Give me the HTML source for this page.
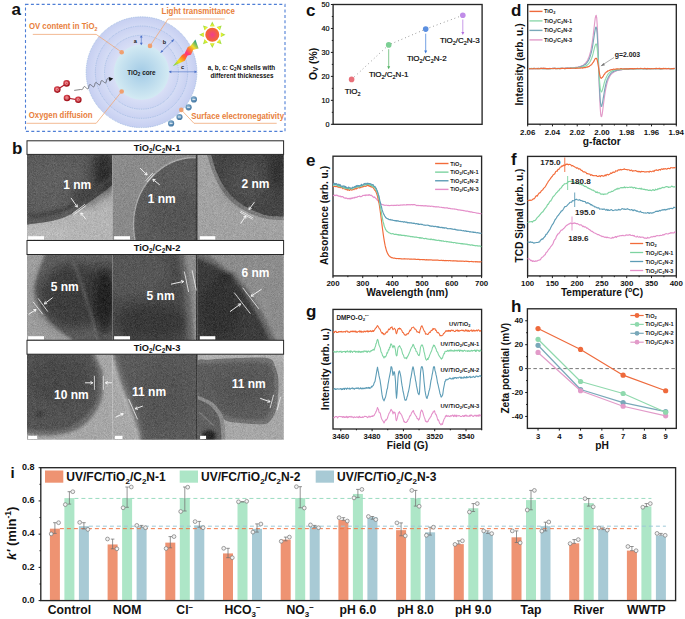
<!DOCTYPE html><html><head><meta charset="utf-8"><style>html,body{margin:0;padding:0;background:#fff;width:685px;height:619px;overflow:hidden}</style></head><body><svg width="685" height="619" viewBox="0 0 685 619" style="display:block;font-family:'Liberation Sans', sans-serif">
<rect width="685" height="619" fill="#fff"/>
<defs>
<radialGradient id="core" cx="50%" cy="50%" r="50%"><stop offset="0" stop-color="#a3cbe6"/><stop offset="1" stop-color="#d3eaf3"/></radialGradient>
<radialGradient id="shell" cx="50%" cy="50%" r="50%"><stop offset="0.49" stop-color="#d9dff6"/><stop offset="0.668" stop-color="#cdd5f3"/><stop offset="0.6681" stop-color="#d6ddf5"/><stop offset="0.834" stop-color="#cad2f2"/><stop offset="0.8341" stop-color="#d3daf5"/><stop offset="1" stop-color="#c6cff1"/></radialGradient>
<radialGradient id="sun" cx="50%" cy="50%" r="50%"><stop offset="0" stop-color="#f03d8f"/><stop offset="1" stop-color="#f46a2a"/></radialGradient>
<linearGradient id="beam" gradientUnits="userSpaceOnUse" x1="173.3" y1="66" x2="197" y2="42"><stop offset="0" stop-color="#60d050"/><stop offset="0.22" stop-color="#f0e020"/><stop offset="0.4" stop-color="#ff7020"/><stop offset="0.55" stop-color="#ff3080"/><stop offset="0.7" stop-color="#ff8030"/><stop offset="0.82" stop-color="#f0e030"/><stop offset="1" stop-color="#20a080"/></linearGradient>
<linearGradient id="ray" x1="0" y1="0" x2="0" y2="1"><stop offset="0" stop-color="#f0f020"/><stop offset="1" stop-color="#70d040"/></linearGradient>
<radialGradient id="ball" cx="40%" cy="35%" r="60%"><stop offset="0" stop-color="#f0606a"/><stop offset="1" stop-color="#a0101a"/></radialGradient>
<radialGradient id="neg" cx="40%" cy="35%" r="60%"><stop offset="0" stop-color="#8ab4d4"/><stop offset="1" stop-color="#4a7ca6"/></radialGradient>
<filter id="b05" x="-50%" y="-50%" width="200%" height="200%"><feGaussianBlur stdDeviation="0.6"/></filter>
<filter id="b1" x="-50%" y="-50%" width="200%" height="200%"><feGaussianBlur stdDeviation="1.5"/></filter>
<filter id="b2" x="-50%" y="-50%" width="200%" height="200%"><feGaussianBlur stdDeviation="3"/></filter>
<filter id="b4" x="-50%" y="-50%" width="200%" height="200%"><feGaussianBlur stdDeviation="6"/></filter>
<filter id="tem" x="0" y="0" width="100%" height="100%" color-interpolation-filters="sRGB"><feTurbulence type="fractalNoise" baseFrequency="1.9" numOctaves="1" seed="4" result="n"/><feColorMatrix in="n" type="matrix" values="1 0 0 0 0  1 0 0 0 0  1 0 0 0 0  0 0 0 0 1" result="g"/><feComposite in="SourceGraphic" in2="g" operator="arithmetic" k1="0" k2="1" k3="0.22" k4="-0.11"/></filter>
<marker id="ah" viewBox="0 0 10 10" refX="9" refY="5" markerWidth="4" markerHeight="4" orient="auto"><path d="M0,0 L10,5 L0,10 z" fill="context-stroke"/></marker>
</defs>
<text x="11.5" y="14.6" font-size="17" font-weight="bold" text-anchor="start" fill="#111" >a</text>
<rect x="25.5" y="4.4" width="259.5" height="127" fill="none" stroke="#4f7fd6" stroke-width="1.1" stroke-dasharray="3 2.4"/>
<circle cx="141.5" cy="72.2" r="55.4" fill="url(#shell)"/>
<circle cx="141.5" cy="72.2" r="55.4" fill="none" stroke="#98b6de" stroke-width="0.75" stroke-dasharray="0.9 0.9"/>
<circle cx="141.5" cy="72.2" r="46.2" fill="none" stroke="#98b6de" stroke-width="0.75" stroke-dasharray="0.9 0.9"/>
<circle cx="141.5" cy="72.2" r="37.0" fill="none" stroke="#98b6de" stroke-width="0.75" stroke-dasharray="0.9 0.9"/>
<circle cx="141.5" cy="72.2" r="27.6" fill="url(#core)"/>
<text x="28.9" y="28.9" font-size="8.8" font-weight="bold" text-anchor="start" fill="#e8803c" textLength="68.6" lengthAdjust="spacingAndGlyphs">OV content in TiO<tspan font-size="6" dy="1.8">2</tspan></text>
<polyline points="32.8,34.4 96.2,34.4 121.7,52.2" fill="none" stroke="#f0a878" stroke-width="0.8" stroke-linejoin="round" />
<text x="161.6" y="14" font-size="8.8" font-weight="bold" text-anchor="start" fill="#e8803c" textLength="73.2" lengthAdjust="spacingAndGlyphs">Light transmittance</text>
<polyline points="224.7,19 168,19 150,45.9" fill="none" stroke="#f0a878" stroke-width="0.8" stroke-linejoin="round" />
<text x="28.8" y="117.6" font-size="8.8" font-weight="bold" text-anchor="start" fill="#e8803c" textLength="63.8" lengthAdjust="spacingAndGlyphs">Oxygen diffusion</text>
<polyline points="26.5,123.3 96.2,123.3 121.7,91.5" fill="none" stroke="#f0a878" stroke-width="0.8" stroke-linejoin="round" />
<text x="191.2" y="118.9" font-size="8.8" font-weight="bold" text-anchor="start" fill="#e8803c" textLength="92.8" lengthAdjust="spacingAndGlyphs">Surface electronegativity</text>
<polyline points="276.7,123.3 194,123.3 181.3,109.9" fill="none" stroke="#f0a878" stroke-width="0.8" stroke-linejoin="round" />
<circle cx="121.7" cy="52.2" r="2.3" fill="#f0a070"/>
<circle cx="150" cy="45.9" r="2.3" fill="#f0a070"/>
<circle cx="121.7" cy="91.5" r="2.3" fill="#f0a070"/>
<circle cx="181.3" cy="109.9" r="2.3" fill="#f0a070"/>
<text x="127.3" y="74.9" font-size="6.4" font-weight="bold" text-anchor="start" fill="#1a1a1a" >TiO<tspan font-size="4.5" dy="1.2">2</tspan><tspan dy="-1.2"> core</tspan></text>
<text x="135.2" y="42.5" font-size="5.6" font-weight="bold" text-anchor="middle" fill="#1a1a1a" >a</text>
<text x="164.4" y="44.4" font-size="5.6" font-weight="bold" text-anchor="middle" fill="#1a1a1a" >b</text>
<text x="182.5" y="69.2" font-size="5.6" font-weight="bold" text-anchor="middle" fill="#1a1a1a" >c</text>
<line x1="141.3" y1="36" x2="141.3" y2="44.2" stroke="#4a70c8" stroke-width="0.6" />
<path d="M139.9,37.6 L141.3,35.2 L142.7,37.6" fill="#4a70c8"/><path d="M139.9,42.8 L141.3,45.2 L142.7,42.8" fill="#4a70c8"/>
<line x1="173.2" y1="40.2" x2="161.3" y2="52" stroke="#4a70c8" stroke-width="0.6" />
<path d="M171.2,40.6 L174.3,39.1 L172.8,42.2 z" fill="#4a70c8"/><path d="M163.3,51.6 L160.2,53.1 L161.7,50.0 z" fill="#4a70c8"/>
<line x1="169.3" y1="71.8" x2="196.5" y2="71.8" stroke="#4a70c8" stroke-width="0.6" />
<path d="M171.3,70.4 L168.9,71.8 L171.3,73.2 z" fill="#4a70c8"/><path d="M194.5,70.4 L196.9,71.8 L194.5,73.2 z" fill="#4a70c8"/>
<text x="241.5" y="70" font-size="6.3" font-weight="bold" text-anchor="middle" fill="#111" >a, b, c: C<tspan font-size="4.5" dy="1.2">2</tspan><tspan dy="-1.2">N shells with</tspan></text>
<text x="242" y="78.2" font-size="6.3" font-weight="bold" text-anchor="middle" fill="#111" >different thicknesses</text>
<path d="M220.9,37.1 L225.5,34.8 L220.9,32.5 z" fill="#a8e040"/>
<path d="M220.9,37.1 L223.2,34.8 L220.9,32.5 z" fill="#e8ee30"/>
<path d="M216.75,42.51 L221.63,44.13 L220.01,39.25 z" fill="#a8e040"/>
<path d="M216.75,42.51 L220.01,42.51 L220.01,39.25 z" fill="#e8ee30"/>
<path d="M210,43.4 L212.3,48 L214.6,43.4 z" fill="#a8e040"/>
<path d="M210,43.4 L212.3,45.7 L214.6,43.4 z" fill="#e8ee30"/>
<path d="M204.59,39.25 L202.97,44.13 L207.85,42.51 z" fill="#a8e040"/>
<path d="M204.59,39.25 L204.59,42.51 L207.85,42.51 z" fill="#e8ee30"/>
<path d="M203.7,32.5 L199.1,34.8 L203.7,37.1 z" fill="#a8e040"/>
<path d="M203.7,32.5 L201.4,34.8 L203.7,37.1 z" fill="#e8ee30"/>
<path d="M207.85,27.09 L202.97,25.47 L204.59,30.35 z" fill="#a8e040"/>
<path d="M207.85,27.09 L204.59,27.09 L204.59,30.35 z" fill="#e8ee30"/>
<path d="M214.6,26.2 L212.3,21.6 L210,26.2 z" fill="#a8e040"/>
<path d="M214.6,26.2 L212.3,23.9 L210,26.2 z" fill="#e8ee30"/>
<path d="M220.01,30.35 L221.63,25.47 L216.75,27.09 z" fill="#a8e040"/>
<path d="M220.01,30.35 L220.01,27.09 L216.75,27.09 z" fill="#e8ee30"/>
<circle cx="212.3" cy="34.8" r="7.0" fill="url(#sun)"/>
<path d="M172.8,66.2 L182.0,55.0 L184.6,53.6 L187.8,47.0 L190.6,45.8 L195.4,39.6 L198.6,48.6 L193.2,49.8 L191.0,54.8 L187.6,55.6 L184.8,60.8 z" fill="url(#beam)"/>
<line x1="57.3" y1="89.6" x2="66.6" y2="83.4" stroke="#b01828" stroke-width="1.2" />
<circle cx="57.3" cy="89.6" r="3.3" fill="url(#ball)"/>
<circle cx="57.3" cy="89.6" r="1.2" fill="none" stroke="#f8d0d0" stroke-width="0.5"/>
<circle cx="66.6" cy="83.4" r="3.3" fill="url(#ball)"/>
<circle cx="66.6" cy="83.4" r="1.2" fill="none" stroke="#f8d0d0" stroke-width="0.5"/>
<line x1="67" y1="98" x2="78.3" y2="99.8" stroke="#b01828" stroke-width="1.2" />
<circle cx="67.0" cy="98.0" r="3.3" fill="url(#ball)"/>
<circle cx="67.0" cy="98.0" r="1.2" fill="none" stroke="#f8d0d0" stroke-width="0.5"/>
<circle cx="78.3" cy="99.8" r="3.3" fill="url(#ball)"/>
<circle cx="78.3" cy="99.8" r="1.2" fill="none" stroke="#f8d0d0" stroke-width="0.5"/>
<polyline points="74.2,90.4 80,89.6 80,89.6 80.2,89.55 80.41,89.52 80.63,89.52 80.85,89.53 81.08,89.55 81.3,89.58 81.53,89.59 81.74,89.59 81.95,89.56 82.15,89.51 82.34,89.41 82.51,89.27 82.67,89.09 82.82,88.87 82.95,88.62 83.08,88.34 83.2,88.04 83.31,87.74 83.43,87.45 83.56,87.18 83.7,86.94 83.86,86.75 84.03,86.62 84.23,86.56 84.45,86.57 84.72,86.7 84.99,86.89 85.29,87.11 85.59,87.37 85.9,87.64 86.21,87.91 86.51,88.17 86.81,88.39 87.08,88.58 87.35,88.71 87.59,88.78 87.81,88.79 88.01,88.72 88.18,88.59 88.33,88.38 88.46,88.12 88.58,87.8 88.67,87.45 88.76,87.06 88.85,86.66 88.94,86.26 89.03,85.87 89.12,85.52 89.24,85.2 89.37,84.94 89.52,84.73 89.69,84.6 89.89,84.53 90.11,84.54 90.35,84.61 90.62,84.74 90.89,84.93 91.19,85.15 91.49,85.41 91.8,85.68 92.11,85.95 92.41,86.21 92.71,86.43 92.98,86.62 93.25,86.75 93.49,86.82 93.71,86.83 93.91,86.76 94.08,86.63 94.23,86.42 94.36,86.16 94.48,85.84 94.57,85.49 94.66,85.1 94.75,84.7 94.84,84.3 94.93,83.91 95.02,83.56 95.14,83.24 95.27,82.98 95.42,82.77 95.59,82.64 95.79,82.57 96.01,82.58 96.25,82.65 96.52,82.78 96.79,82.97 97.09,83.19 97.39,83.45 97.7,83.72 98.01,83.99 98.31,84.25 98.61,84.47 98.88,84.66 99.15,84.79 99.39,84.86 99.61,84.87 99.81,84.8 99.98,84.67 100.13,84.46 100.26,84.2 100.38,83.88 100.47,83.53 100.56,83.14 100.65,82.74 100.74,82.34 100.83,81.95 100.92,81.6 101.04,81.28 101.17,81.02 101.32,80.81 101.49,80.68 101.69,80.61 101.91,80.62 102.15,80.69 102.42,80.82 102.69,81.01 102.99,81.23 103.29,81.49 103.6,81.76 103.91,82.03 104.21,82.29 104.51,82.51 104.78,82.7 105.05,82.83 105.29,82.9 105.51,82.91 105.71,82.84 105.88,82.71 106.03,82.5 106.16,82.24 106.28,81.92 106.37,81.57 106.46,81.18 106.55,80.78 106.64,80.38 106.73,79.99 106.82,79.64 106.94,79.32 107.07,79.06 107.22,78.85 107.39,78.72 107.59,78.65 107.81,78.66 108.05,78.73 108.32,78.86 108.59,79.05 108.89,79.27 109.19,79.53 109.5,79.8" fill="none" stroke="#333" stroke-width="0.6" stroke-linejoin="round" />
<path d="M108.6,77.0 L113.2,78.6 L109.6,81.6 z" fill="#111"/>
<circle cx="193.9" cy="99.4" r="3.1" fill="url(#neg)"/>
<line x1="192.4" y1="99.4" x2="195.4" y2="99.4" stroke="#fff" stroke-width="0.8" />
<circle cx="188.6" cy="107.3" r="3.1" fill="url(#neg)"/>
<line x1="187.1" y1="107.3" x2="190.1" y2="107.3" stroke="#fff" stroke-width="0.8" />
<circle cx="179.5" cy="117.0" r="3.1" fill="url(#neg)"/>
<line x1="178" y1="117" x2="181" y2="117" stroke="#fff" stroke-width="0.8" />
<circle cx="171.1" cy="123.4" r="3.1" fill="url(#neg)"/>
<line x1="169.6" y1="123.4" x2="172.6" y2="123.4" stroke="#fff" stroke-width="0.8" />
<text x="12" y="154.3" font-size="17" font-weight="bold" text-anchor="start" fill="#111" >b</text>
<clipPath id="cl00"><rect x="27" y="154.2" width="85.4" height="86"/></clipPath>
<g clip-path="url(#cl00)"><g filter="url(#tem)">
<rect x="25" y="152.2" width="92" height="92" fill="#b4b4b4"/><path d="M20,226 L20.31,225.93 L20.56,225.86 L20.84,225.77 L21.25,225.67 L21.88,225.53 L22.81,225.35 L24.16,225.11 L26,224.8 L28.51,224.43 L31.68,224.01 L35.31,223.53 L39.23,223.01 L43.24,222.45 L47.16,221.84 L50.81,221.19 L54,220.5 L56.77,219.78 L59.31,219.04 L61.67,218.26 L63.9,217.43 L66.04,216.55 L68.14,215.61 L70.24,214.59 L72.4,213.5 L74.59,212.3 L76.74,211 L78.87,209.61 L80.98,208.17 L83.07,206.69 L85.13,205.21 L87.17,203.73 L89.2,202.3 L91.25,200.86 L93.34,199.37 L95.42,197.86 L97.48,196.36 L99.47,194.89 L101.36,193.49 L103.12,192.18 L104.7,191 L106.09,189.94 L107.31,188.99 L108.4,188.12 L109.38,187.32 L110.3,186.58 L111.19,185.87 L112.07,185.18 L113,184.5 L113.99,183.81 L115.01,183.13 L116.03,182.47 L117.02,181.84 L117.94,181.27 L118.77,180.76 L119.47,180.33 L120,180 L120,140 L20,140 z" fill="#5a5a5a" filter="url(#b05)"/><ellipse cx="55" cy="185" rx="30" ry="26" fill="#5e5e5e" filter="url(#b4)"/><ellipse cx="104" cy="172" rx="11" ry="22" fill="#2c2c2c" filter="url(#b4)"/><ellipse cx="85" cy="195" rx="14" ry="8" fill="#3c3c3c" filter="url(#b4)"/><ellipse cx="40" cy="234" rx="30" ry="5" fill="#bcbcbc" filter="url(#b2)"/><path d="M30,216.5 L31.89,216.21 L34.44,215.85 L37.49,215.42 L40.85,214.94 L44.36,214.4 L47.83,213.8 L51.1,213.17 L54,212.5 L56.58,211.8 L59.03,211.06 L61.38,210.28 L63.65,209.45 L65.86,208.56 L68.04,207.62 L70.21,206.6 L72.4,205.5 L74.59,204.3 L76.74,203 L78.87,201.61 L80.98,200.17 L83.07,198.69 L85.13,197.21 L87.17,195.73 L89.2,194.3 L91.25,192.86 L93.34,191.37 L95.42,189.86 L97.48,188.36 L99.47,186.89 L101.36,185.49 L103.12,184.18 L104.7,183 L106.14,181.91 L107.48,180.89 L108.7,179.93 L109.82,179.04 L110.81,178.25 L111.68,177.56 L112.41,176.97 L113,176.5" fill="none" stroke="#444" stroke-width="4" filter="url(#b1)"/>
</g>
<text x="77.3" y="188.9" font-size="12" font-weight="bold" fill="#fff" text-anchor="middle">1 nm</text><line x1="72.4" y1="213.7" x2="85" y2="204.3" stroke="#f0f0f0" stroke-width="0.8"/><line x1="73.4" y1="215" x2="86" y2="205.6" stroke="#f0f0f0" stroke-width="0.8"/><line x1="71" y1="197.9" x2="77.3" y2="207.1" stroke="#fafafa" stroke-width="0.9"/><polyline points="74.74,205.96 77.3,207.1 77.16,204.3" fill="none" stroke="#fafafa" stroke-width="0.9"/><line x1="85.7" y1="218.9" x2="80.8" y2="213" stroke="#fafafa" stroke-width="0.9"/><polyline points="83.45,213.9 80.8,213 81.2,215.77" fill="none" stroke="#fafafa" stroke-width="0.9"/><rect x="28.1" y="236.2" width="15.9" height="3.3" fill="#fff"/>
</g>
<clipPath id="cl01"><rect x="112.4" y="154.2" width="85.4" height="86"/></clipPath>
<g clip-path="url(#cl01)"><g filter="url(#tem)">
<rect x="110.4" y="152.2" width="92" height="92" fill="#8a8a8a"/><ellipse cx="195" cy="225" rx="61.5" ry="67.5" fill="#5c5c5c" stroke="#a8a8a8" stroke-width="1.3" filter="url(#b05)"/><ellipse cx="175" cy="215" rx="25" ry="25" fill="#545454" filter="url(#b4)"/><rect x="195.8" y="150" width="2.5" height="95" fill="#3a3a3a"/>
</g>
<text x="161.65" y="202.5" font-size="12" font-weight="bold" fill="#fff" text-anchor="middle">1 nm</text><line x1="145.7" y1="180.7" x2="152.8" y2="173" stroke="#f0f0f0" stroke-width="0.8"/><line x1="147" y1="181.9" x2="154.1" y2="174.2" stroke="#f0f0f0" stroke-width="0.8"/><line x1="140.1" y1="168" x2="147.1" y2="175" stroke="#fafafa" stroke-width="0.9"/><polyline points="144.38,174.35 147.1,175 146.45,172.28" fill="none" stroke="#fafafa" stroke-width="0.9"/><line x1="159.8" y1="184.9" x2="152.8" y2="179.3" stroke="#fafafa" stroke-width="0.9"/><polyline points="155.58,179.65 152.8,179.3 153.75,181.93" fill="none" stroke="#fafafa" stroke-width="0.9"/><rect x="114.1" y="236.2" width="15.9" height="3.3" fill="#fff"/>
</g>
<clipPath id="cl02"><rect x="197.8" y="154.2" width="86" height="86"/></clipPath>
<g clip-path="url(#cl02)"><g filter="url(#tem)">
<rect x="195.8" y="152.2" width="92" height="92" fill="#a2a2a2"/><path d="M203,140 L203.27,141.03 L203.61,142.35 L204,143.92 L204.46,145.69 L204.97,147.62 L205.53,149.68 L206.14,151.82 L206.8,154 L207.5,156.3 L208.25,158.79 L209.04,161.42 L209.89,164.14 L210.79,166.91 L211.76,169.67 L212.79,172.38 L213.9,175 L215.08,177.58 L216.34,180.2 L217.67,182.83 L219.06,185.42 L220.51,187.96 L222,190.38 L223.53,192.68 L225.1,194.8 L226.71,196.75 L228.36,198.55 L230.06,200.24 L231.8,201.81 L233.59,203.3 L235.42,204.71 L237.29,206.08 L239.2,207.4 L241.19,208.68 L243.27,209.91 L245.42,211.07 L247.6,212.16 L249.78,213.19 L251.93,214.14 L254.01,215.01 L256,215.8 L257.89,216.5 L259.72,217.11 L261.49,217.63 L263.23,218.09 L264.95,218.48 L266.65,218.82 L268.37,219.13 L270.1,219.4 L271.87,219.62 L273.66,219.78 L275.45,219.87 L277.24,219.92 L279.01,219.95 L280.73,219.96 L282.4,219.97 L284,220 L285.59,220.03 L287.21,220.04 L288.82,220.04 L290.37,220.04 L291.81,220.03 L293.09,220.01 L294.17,220 L295,220 L295,140 z" fill="#7c7c7c" filter="url(#b05)"/><path d="M208.5,140 L208.67,141.04 L208.86,142.36 L209.08,143.94 L209.34,145.72 L209.66,147.66 L210.04,149.71 L210.48,151.84 L211,154 L211.59,156.27 L212.25,158.74 L212.96,161.34 L213.74,164.03 L214.58,166.75 L215.49,169.43 L216.46,172.04 L217.5,174.5 L218.62,176.87 L219.82,179.21 L221.09,181.52 L222.43,183.78 L223.81,185.97 L225.24,188.08 L226.71,190.1 L228.2,192 L229.72,193.79 L231.28,195.47 L232.88,197.07 L234.52,198.58 L236.2,200.01 L237.92,201.39 L239.69,202.71 L241.5,204 L243.38,205.25 L245.36,206.44 L247.39,207.59 L249.46,208.67 L251.53,209.69 L253.58,210.64 L255.58,211.51 L257.5,212.3 L259.28,213 L260.92,213.62 L262.48,214.17 L264.03,214.64 L265.64,215.05 L267.38,215.41 L269.31,215.72 L271.5,216 L274.14,216.22 L277.26,216.36 L280.65,216.44 L284.12,216.48 L287.49,216.49 L290.55,216.49 L293.12,216.48 L295,216.5 L295,140 z" fill="#444" filter="url(#b05)"/><ellipse cx="248" cy="182" rx="22" ry="20" fill="#505050" filter="url(#b4)"/><ellipse cx="278" cy="168" rx="10" ry="22" fill="#333" filter="url(#b4)"/>
</g>
<text x="255.55" y="187.7" font-size="12" font-weight="bold" fill="#fff" text-anchor="middle">2 nm</text><line x1="240.6" y1="210.9" x2="253.2" y2="218" stroke="#f0f0f0" stroke-width="0.8"/><line x1="240" y1="212.2" x2="252.6" y2="219.3" stroke="#f0f0f0" stroke-width="0.8"/><line x1="254.6" y1="201.8" x2="249" y2="209.5" stroke="#fafafa" stroke-width="0.9"/><polyline points="249.22,206.71 249,209.5 251.59,208.43" fill="none" stroke="#fafafa" stroke-width="0.9"/><line x1="240.6" y1="223.6" x2="245.9" y2="215.8" stroke="#fafafa" stroke-width="0.9"/><polyline points="245.77,218.6 245.9,215.8 243.35,216.95" fill="none" stroke="#fafafa" stroke-width="0.9"/><rect x="199.8" y="236.2" width="15.5" height="3.3" fill="#fff"/>
</g>
<clipPath id="cl10"><rect x="27" y="254.3" width="85.4" height="85.7"/></clipPath>
<g clip-path="url(#cl10)"><g filter="url(#tem)">
<rect x="25" y="252.3" width="92" height="92" fill="#9c9c9c"/><path d="M48,245 L47.76,245.56 L47.48,246.17 L47.16,246.88 L46.77,247.74 L46.3,248.83 L45.75,250.2 L45.08,251.9 L44.3,254 L43.28,256.67 L42,259.91 L40.55,263.57 L39.03,267.47 L37.56,271.44 L36.23,275.32 L35.14,278.93 L34.4,282.1 L33.97,284.85 L33.72,287.33 L33.66,289.62 L33.77,291.78 L34.05,293.87 L34.49,295.96 L35.07,298.12 L35.8,300.4 L36.72,302.83 L37.87,305.37 L39.19,307.96 L40.66,310.55 L42.23,313.1 L43.85,315.55 L45.49,317.87 L47.1,320 L48.74,321.95 L50.47,323.76 L52.27,325.46 L54.1,327.06 L55.93,328.56 L57.73,330 L59.46,331.37 L61.1,332.7 L62.67,333.94 L64.2,335.07 L65.7,336.1 L67.15,337.08 L68.55,338.03 L69.9,338.98 L71.18,339.96 L72.4,341 L73.58,342.15 L74.74,343.41 L75.85,344.72 L76.91,346.02 L77.87,347.25 L78.72,348.37 L79.44,349.3 L80,350 L125,350 L125,245 z" fill="#5e5e5e" filter="url(#b1)"/><ellipse cx="75" cy="296" rx="36" ry="33" fill="#3c3c3c" filter="url(#b4)"/><ellipse cx="105" cy="300" rx="10" ry="35" fill="#1e1e1e" filter="url(#b4)"/><path d="M74,262 C84,290 92,315 98,345" fill="none" stroke="#7a7a7a" stroke-width="1.2" filter="url(#b1)"/><path d="M44.3,254 L43.46,256.23 L42.26,259.28 L40.82,262.91 L39.26,266.91 L37.72,271.05 L36.31,275.11 L35.16,278.86 L34.4,282.1 L33.97,284.85 L33.72,287.33 L33.66,289.62 L33.77,291.78 L34.05,293.87 L34.49,295.96 L35.07,298.12 L35.8,300.4 L36.72,302.83 L37.87,305.37 L39.19,307.96 L40.66,310.55 L42.23,313.1 L43.85,315.55 L45.49,317.87 L47.1,320 L48.74,321.95 L50.47,323.76 L52.27,325.46 L54.1,327.06 L55.93,328.56 L57.73,330 L59.46,331.37 L61.1,332.7 L62.72,334 L64.38,335.28 L66.03,336.5 L67.62,337.64 L69.11,338.69 L70.43,339.61 L71.55,340.39 L72.4,341" fill="none" stroke="#b0b0b0" stroke-width="1.0" filter="url(#b1)"/>
</g>
<text x="64.65" y="290.8" font-size="12" font-weight="bold" fill="#fff" text-anchor="middle">5 nm</text><line x1="38" y1="298.3" x2="47.8" y2="311.6" stroke="#f0f0f0" stroke-width="0.8"/><line x1="33" y1="301.8" x2="42.9" y2="314.4" stroke="#f0f0f0" stroke-width="0.8"/><line x1="52.7" y1="297.6" x2="44.3" y2="303.9" stroke="#fafafa" stroke-width="0.9"/><polyline points="45.33,301.3 44.3,303.9 47.09,303.64" fill="none" stroke="#fafafa" stroke-width="0.9"/><line x1="28.5" y1="314.4" x2="36.1" y2="309.5" stroke="#fafafa" stroke-width="0.9"/><polyline points="34.89,312.02 36.1,309.5 33.3,309.56" fill="none" stroke="#fafafa" stroke-width="0.9"/><rect x="28.1" y="336.2" width="15.9" height="3.3" fill="#fff"/>
</g>
<clipPath id="cl11"><rect x="112.4" y="254.3" width="85.4" height="85.7"/></clipPath>
<g clip-path="url(#cl11)"><g filter="url(#tem)">
<rect x="110.4" y="252.3" width="92" height="92" fill="#4a4a4a"/><ellipse cx="132" cy="272" rx="38" ry="26" fill="#565656" filter="url(#b4)"/><ellipse cx="152" cy="322" rx="36" ry="18" fill="#383838" filter="url(#b4)"/><path d="M182,250 L182.04,250.22 L182.06,250.39 L182.1,250.58 L182.14,250.86 L182.22,251.3 L182.33,251.97 L182.48,252.95 L182.7,254.3 L182.99,256.07 L183.35,258.22 L183.76,260.67 L184.21,263.36 L184.67,266.2 L185.14,269.14 L185.58,272.09 L186,275 L186.4,277.95 L186.81,281.06 L187.21,284.28 L187.61,287.54 L188,290.8 L188.36,294 L188.7,297.08 L189,300 L189.26,302.73 L189.5,305.33 L189.71,307.82 L189.89,310.25 L190.06,312.65 L190.22,315.05 L190.36,317.49 L190.5,320 L190.63,322.66 L190.74,325.46 L190.84,328.33 L190.93,331.19 L191,333.96 L191.07,336.57 L191.14,338.94 L191.2,341 L191.26,342.76 L191.31,344.3 L191.35,345.65 L191.39,346.81 L191.43,347.81 L191.46,348.66 L191.48,349.39 L191.5,350 L210,350 L210,250 z" fill="#888" filter="url(#b2)"/><path d="M178.5,250 L178.54,250.22 L178.56,250.39 L178.6,250.58 L178.64,250.86 L178.72,251.3 L178.83,251.97 L178.98,252.95 L179.2,254.3 L179.49,256.07 L179.85,258.22 L180.26,260.67 L180.71,263.36 L181.17,266.2 L181.64,269.14 L182.08,272.09 L182.5,275 L182.9,277.95 L183.31,281.06 L183.71,284.28 L184.11,287.54 L184.5,290.8 L184.86,294 L185.2,297.08 L185.5,300 L185.76,302.73 L186,305.33 L186.21,307.82 L186.39,310.25 L186.56,312.65 L186.72,315.05 L186.86,317.49 L187,320 L187.13,322.66 L187.24,325.46 L187.34,328.33 L187.43,331.19 L187.5,333.96 L187.57,336.57 L187.64,338.94 L187.7,341 L187.76,342.76 L187.81,344.3 L187.85,345.65 L187.89,346.81 L187.93,347.81 L187.96,348.66 L187.98,349.39 L188,350 L210,350 L210,250 z" fill="#686868" filter="url(#b2)"/><path d="M184,250 L184.04,250.22 L184.06,250.39 L184.1,250.58 L184.14,250.86 L184.22,251.3 L184.33,251.97 L184.48,252.95 L184.7,254.3 L184.99,256.07 L185.35,258.22 L185.76,260.67 L186.21,263.36 L186.67,266.2 L187.14,269.14 L187.58,272.09 L188,275 L188.4,277.95 L188.81,281.06 L189.21,284.28 L189.61,287.54 L190,290.8 L190.36,294 L190.7,297.08 L191,300 L191.26,302.73 L191.5,305.33 L191.71,307.82 L191.89,310.25 L192.06,312.65 L192.22,315.05 L192.36,317.49 L192.5,320 L192.63,322.66 L192.74,325.46 L192.84,328.33 L192.93,331.19 L193,333.96 L193.07,336.57 L193.14,338.94 L193.2,341 L193.26,342.76 L193.31,344.3 L193.35,345.65 L193.39,346.81 L193.43,347.81 L193.46,348.66 L193.48,349.39 L193.5,350 L210,350 L210,250 z" fill="#8c8c8c" filter="url(#b1)"/><rect x="196" y="250" width="2.5" height="95" fill="#3a3a3a"/>
</g>
<text x="160.6" y="299.7" font-size="12" font-weight="bold" fill="#fff" text-anchor="middle">5 nm</text><line x1="184.4" y1="271.6" x2="188.6" y2="292" stroke="#f0f0f0" stroke-width="0.8"/><line x1="192.1" y1="270.2" x2="196.3" y2="290.5" stroke="#f0f0f0" stroke-width="0.8"/><line x1="171" y1="284.2" x2="183.7" y2="281.4" stroke="#fafafa" stroke-width="0.9"/><polyline points="181.68,283.34 183.7,281.4 181.05,280.48" fill="none" stroke="#fafafa" stroke-width="0.9"/><rect x="114.1" y="336.2" width="15.9" height="3.3" fill="#fff"/>
</g>
<clipPath id="cl12"><rect x="197.8" y="254.3" width="86" height="85.7"/></clipPath>
<g clip-path="url(#cl12)"><g filter="url(#tem)">
<rect x="195.8" y="252.3" width="92" height="92" fill="#8c8c8c"/><path d="M195,250 L195.79,250.24 L196.79,250.48 L197.96,250.77 L199.31,251.12 L200.8,251.59 L202.42,252.2 L204.16,252.99 L206,254 L207.99,255.23 L210.16,256.66 L212.49,258.27 L214.93,260.02 L217.45,261.89 L220.01,263.86 L222.57,265.91 L225.1,268 L227.65,270.14 L230.29,272.36 L232.98,274.66 L235.68,277.06 L238.37,279.55 L241.01,282.15 L243.56,284.86 L246,287.7 L248.34,290.7 L250.62,293.89 L252.85,297.2 L255.01,300.62 L257.1,304.09 L259.14,307.57 L261.1,311.02 L263,314.4 L264.86,317.85 L266.7,321.47 L268.49,325.16 L270.2,328.81 L271.81,332.32 L273.3,335.59 L274.64,338.52 L275.8,341 L276.77,343.03 L277.55,344.7 L278.19,346.06 L278.7,347.16 L279.11,348.06 L279.45,348.8 L279.73,349.43 L280,350 L190,350 z" fill="#686868" filter="url(#b1)"/><path d="M190,255 L190.51,255.2 L191.1,255.42 L191.8,255.68 L192.62,255.99 L193.6,256.38 L194.77,256.86 L196.16,257.46 L197.8,258.2 L199.75,259.05 L202.02,259.99 L204.54,261.02 L207.23,262.16 L210.03,263.41 L212.85,264.8 L215.63,266.32 L218.3,268 L220.92,269.82 L223.59,271.78 L226.29,273.87 L228.98,276.09 L231.65,278.45 L234.25,280.94 L236.78,283.55 L239.2,286.3 L241.53,289.26 L243.82,292.48 L246.04,295.88 L248.2,299.39 L250.28,302.93 L252.28,306.42 L254.19,309.81 L256,313 L257.72,316.07 L259.37,319.11 L260.93,322.1 L262.41,325.01 L263.79,327.83 L265.07,330.54 L266.24,333.1 L267.3,335.5 L268.24,337.79 L269.05,340.03 L269.75,342.16 L270.36,344.16 L270.87,345.98 L271.31,347.58 L271.68,348.94 L272,350 L190,350 z" fill="#3c3c3c" filter="url(#b1)"/><ellipse cx="220" cy="310" rx="22" ry="30" fill="#333" filter="url(#b4)"/><ellipse cx="225" cy="278" rx="10" ry="4" fill="#2a2a2a" filter="url(#b2)"/>
</g>
<text x="255.55" y="276.8" font-size="12" font-weight="bold" fill="#fff" text-anchor="middle">6 nm</text><line x1="234.2" y1="292.6" x2="250.4" y2="313.7" stroke="#f0f0f0" stroke-width="0.8"/><line x1="242.7" y1="287.7" x2="258.8" y2="308.8" stroke="#f0f0f0" stroke-width="0.8"/><line x1="230" y1="311.6" x2="240.6" y2="303.9" stroke="#fafafa" stroke-width="0.9"/><polyline points="239.53,306.49 240.6,303.9 237.81,304.12" fill="none" stroke="#fafafa" stroke-width="0.9"/><line x1="261.7" y1="289.1" x2="251.1" y2="296.2" stroke="#fafafa" stroke-width="0.9"/><polyline points="252.27,293.66 251.1,296.2 253.9,296.09" fill="none" stroke="#fafafa" stroke-width="0.9"/><rect x="199.8" y="336.2" width="15.5" height="3.3" fill="#fff"/>
</g>
<clipPath id="cl20"><rect x="27" y="354" width="85.4" height="85.8"/></clipPath>
<g clip-path="url(#cl20)"><g filter="url(#tem)">
<rect x="25" y="352" width="92" height="92" fill="#a6a6a6"/><path d="M93,345 L93.11,345.64 L93.22,346.43 L93.35,347.37 L93.51,348.44 L93.73,349.65 L94.02,350.98 L94.41,352.44 L94.9,354 L95.57,355.74 L96.42,357.7 L97.4,359.82 L98.43,362.05 L99.46,364.33 L100.42,366.6 L101.26,368.81 L101.9,370.9 L102.38,372.87 L102.78,374.75 L103.08,376.6 L103.3,378.42 L103.43,380.28 L103.48,382.18 L103.43,384.18 L103.3,386.3 L103.11,388.57 L102.88,390.96 L102.57,393.43 L102.17,395.97 L101.65,398.53 L100.98,401.07 L100.14,403.58 L99.1,406 L97.83,408.42 L96.33,410.91 L94.66,413.4 L92.84,415.86 L90.92,418.22 L88.95,420.45 L86.96,422.5 L85,424.3 L83.06,425.86 L81.09,427.23 L79.09,428.42 L77.04,429.47 L74.93,430.4 L72.77,431.23 L70.52,431.99 L68.2,432.7 L65.77,433.35 L63.23,433.89 L60.6,434.34 L57.92,434.71 L55.2,435 L52.48,435.23 L49.77,435.39 L47.1,435.5 L44.37,435.52 L41.52,435.41 L38.61,435.23 L35.73,434.98 L32.95,434.71 L30.35,434.46 L28.01,434.24 L26,434.1 L24.32,434.02 L22.89,433.98 L21.69,433.96 L20.68,433.96 L19.84,433.97 L19.13,433.99 L18.53,434 L18,434 L18,345 z" fill="#6c6c6c" filter="url(#b1)"/><path d="M90,345 L90.04,345.64 L90.06,346.43 L90.08,347.36 L90.12,348.44 L90.21,349.64 L90.38,350.98 L90.63,352.43 L91,354 L91.54,355.76 L92.27,357.73 L93.1,359.88 L94,362.12 L94.9,364.42 L95.73,366.7 L96.46,368.92 L97,371 L97.4,372.95 L97.72,374.82 L97.96,376.64 L98.12,378.44 L98.21,380.24 L98.22,382.09 L98.15,384 L98,386 L97.8,388.12 L97.56,390.34 L97.26,392.62 L96.88,394.94 L96.38,397.26 L95.75,399.57 L94.96,401.83 L94,404 L92.82,406.15 L91.43,408.33 L89.87,410.5 L88.19,412.62 L86.42,414.67 L84.6,416.61 L82.78,418.4 L81,420 L79.25,421.42 L77.48,422.69 L75.7,423.83 L73.88,424.84 L72.01,425.75 L70.08,426.57 L68.08,427.32 L66,428 L63.83,428.6 L61.58,429.11 L59.26,429.52 L56.88,429.84 L54.45,430.1 L51.98,430.29 L49.5,430.42 L47,430.5 L44.38,430.49 L41.59,430.37 L38.7,430.16 L35.81,429.91 L33.01,429.63 L30.38,429.36 L28.02,429.14 L26,429 L24.32,428.93 L22.9,428.89 L21.7,428.89 L20.69,428.91 L19.84,428.93 L19.13,428.96 L18.53,428.99 L18,429 L18,345 z" fill="#535353" filter="url(#b1)"/><ellipse cx="60" cy="380" rx="32" ry="25" fill="#484848" filter="url(#b4)"/><ellipse cx="40" cy="414" rx="4" ry="3" fill="#3a3a3a" filter="url(#b1)"/>
</g>
<text x="71.45" y="398.7" font-size="12" font-weight="bold" fill="#fff" text-anchor="middle">10 nm</text><line x1="94.4" y1="375.8" x2="94.4" y2="389.8" stroke="#f0f0f0" stroke-width="0.8"/><line x1="103.3" y1="375.8" x2="103.3" y2="389.8" stroke="#f0f0f0" stroke-width="0.8"/><line x1="85" y1="382.8" x2="92.8" y2="382.8" stroke="#fafafa" stroke-width="0.9"/><polyline points="90.41,384.26 92.8,382.8 90.41,381.34" fill="none" stroke="#fafafa" stroke-width="0.9"/><line x1="113" y1="382.8" x2="105.4" y2="382.8" stroke="#fafafa" stroke-width="0.9"/><polyline points="107.79,381.34 105.4,382.8 107.79,384.26" fill="none" stroke="#fafafa" stroke-width="0.9"/><rect x="28.1" y="435.8" width="9.1" height="3.2" fill="#fff"/>
</g>
<clipPath id="cl21"><rect x="112.4" y="354" width="85.4" height="85.8"/></clipPath>
<g clip-path="url(#cl21)"><g filter="url(#tem)">
<rect x="110.4" y="352" width="92" height="92" fill="#a8a8a8"/><path d="M113,345 L113.02,345.7 L113.05,346.63 L113.08,347.74 L113.11,348.97 L113.16,350.27 L113.22,351.58 L113.3,352.84 L113.4,354 L113.5,355 L113.58,355.88 L113.67,356.7 L113.78,357.53 L113.92,358.45 L114.13,359.52 L114.42,360.81 L114.8,362.4 L115.27,364.28 L115.8,366.4 L116.4,368.71 L117.07,371.19 L117.8,373.81 L118.6,376.52 L119.47,379.29 L120.4,382.1 L121.43,384.96 L122.58,387.9 L123.8,390.93 L125.09,394.05 L126.41,397.26 L127.73,400.55 L129.04,403.93 L130.3,407.4 L131.59,411.13 L132.97,415.18 L134.37,419.42 L135.76,423.7 L137.08,427.87 L138.28,431.79 L139.3,435.32 L140.1,438.3 L140.64,440.76 L140.97,442.85 L141.13,444.61 L141.16,446.08 L141.12,447.31 L141.05,448.35 L140.99,449.23 L141,450 L210,450 L210,345 z" fill="#5a5a5a" filter="url(#b1)"/><path d="M113.4,354 L113.48,354.57 L113.55,355.24 L113.64,356.04 L113.75,356.97 L113.91,358.05 L114.12,359.31 L114.41,360.75 L114.8,362.4 L115.27,364.28 L115.8,366.4 L116.4,368.71 L117.07,371.19 L117.8,373.81 L118.6,376.52 L119.47,379.29 L120.4,382.1 L121.43,384.96 L122.58,387.9 L123.8,390.93 L125.09,394.05 L126.41,397.26 L127.73,400.55 L129.04,403.93 L130.3,407.4 L131.6,411.21 L132.99,415.46 L134.41,419.94 L135.82,424.43 L137.15,428.73 L138.34,432.62 L139.34,435.88 L140.1,438.3" fill="none" stroke="#cacaca" stroke-width="2.2" filter="url(#b2)"/><ellipse cx="165" cy="395" rx="25" ry="35" fill="#555" filter="url(#b4)"/><rect x="196" y="350" width="3" height="95" fill="#3a3a3a"/>
</g>
<text x="149.1" y="395.5" font-size="12" font-weight="bold" fill="#fff" text-anchor="middle">11 nm</text><line x1="128.6" y1="399" x2="137.6" y2="419.4" stroke="#f0f0f0" stroke-width="0.8"/><line x1="142.9" y1="406" x2="135.2" y2="408.8" stroke="#fafafa" stroke-width="0.9"/><polyline points="136.94,406.61 135.2,408.8 137.94,409.36" fill="none" stroke="#fafafa" stroke-width="0.9"/><line x1="115.5" y1="417.2" x2="123.2" y2="413.7" stroke="#fafafa" stroke-width="0.9"/><polyline points="121.63,416.02 123.2,413.7 120.42,413.36" fill="none" stroke="#fafafa" stroke-width="0.9"/><rect x="114.8" y="435.8" width="7.7" height="3.2" fill="#fff"/>
</g>
<clipPath id="cl22"><rect x="197.8" y="354" width="86" height="85.8"/></clipPath>
<g clip-path="url(#cl22)"><g filter="url(#tem)">
<rect x="195.8" y="352" width="92" height="92" fill="#a6a6a6"/><rect x="195" y="350" width="95" height="12" fill="#b0b0b0" filter="url(#b2)"/><path d="M196,363 L197.06,362.73 L198.37,362.35 L199.91,361.89 L201.69,361.4 L203.69,360.89 L205.91,360.4 L208.35,359.96 L211,359.6 L213.96,359.3 L217.29,359.03 L220.89,358.79 L224.69,358.58 L228.58,358.39 L232.49,358.23 L236.33,358.1 L240,358 L243.69,357.89 L247.56,357.75 L251.5,357.61 L255.38,357.51 L259.08,357.49 L262.5,357.57 L265.51,357.8 L268,358.2 L269.9,358.75 L271.31,359.42 L272.32,360.2 L273.03,361.11 L273.55,362.13 L273.99,363.29 L274.44,364.58 L275,366 L275.64,367.55 L276.25,369.21 L276.81,371 L277.31,372.92 L277.74,374.98 L278.09,377.19 L278.35,379.56 L278.5,382.1 L278.54,384.96 L278.49,388.19 L278.35,391.66 L278.12,395.24 L277.82,398.8 L277.45,402.2 L277,405.31 L276.5,408 L275.91,410.31 L275.23,412.38 L274.46,414.25 L273.62,415.91 L272.75,417.4 L271.84,418.73 L270.92,419.93 L270,421 L269.17,421.91 L268.43,422.61 L267.73,423.15 L266.97,423.54 L266.09,423.83 L265.02,424.03 L263.68,424.17 L262,424.3 L259.87,424.37 L257.32,424.34 L254.46,424.22 L251.43,424.04 L248.35,423.81 L245.33,423.55 L242.51,423.27 L240,423 L237.8,422.78 L235.78,422.6 L233.9,422.43 L232.12,422.22 L230.39,421.93 L228.67,421.51 L226.92,420.91 L225.1,420.1 L223.21,419.03 L221.31,417.72 L219.4,416.23 L217.49,414.62 L215.59,412.93 L213.7,411.23 L211.84,409.57 L210,408 L208.1,406.64 L206.09,405.49 L204.05,404.42 L202.06,403.31 L200.18,402.03 L198.49,400.47 L197.07,398.5 L196,396 L195.23,392.68 L194.66,388.53 L194.32,383.86 L194.19,378.96 L194.29,374.13 L194.62,369.66 L195.19,365.85 L196,363 L197.06,361.15 L198.37,360.03 L199.91,359.48 L201.69,359.34 L203.69,359.44 L205.91,359.63 L208.35,359.74 L211,359.6 L214.15,359.3 L217.95,359.04 L222.12,358.8 L226.44,358.59 L230.63,358.4 L234.46,358.25 L237.67,358.11 L240,358" fill="#727272" filter="url(#b05)"/><path d="M196,367 L197.06,366.76 L198.37,366.43 L199.91,366.03 L201.69,365.59 L203.69,365.15 L205.91,364.71 L208.35,364.32 L211,364 L213.98,363.73 L217.34,363.47 L220.98,363.24 L224.81,363.03 L228.73,362.85 L232.63,362.7 L236.42,362.58 L240,362.5 L243.53,362.43 L247.18,362.36 L250.85,362.3 L254.44,362.28 L257.85,362.32 L260.98,362.44 L263.73,362.66 L266,363 L267.73,363.43 L268.99,363.93 L269.87,364.5 L270.47,365.16 L270.89,365.92 L271.21,366.81 L271.55,367.83 L272,369 L272.51,370.31 L272.98,371.73 L273.39,373.27 L273.75,374.94 L274.05,376.74 L274.27,378.68 L274.43,380.76 L274.5,383 L274.5,385.53 L274.42,388.4 L274.28,391.49 L274.06,394.69 L273.78,397.86 L273.42,400.88 L273,403.64 L272.5,406 L271.9,408.01 L271.18,409.79 L270.37,411.38 L269.5,412.78 L268.6,414.02 L267.7,415.13 L266.82,416.11 L266,417 L265.32,417.74 L264.79,418.3 L264.33,418.71 L263.84,419 L263.25,419.19 L262.47,419.32 L261.42,419.41 L260,419.5 L258.13,419.56 L255.84,419.54 L253.26,419.47 L250.5,419.34 L247.68,419.18 L244.91,418.97 L242.31,418.74 L240,418.5 L237.96,418.28 L236.08,418.09 L234.31,417.9 L232.62,417.66 L230.99,417.34 L229.36,416.89 L227.71,416.3 L226,415.5 L224.26,414.47 L222.55,413.23 L220.84,411.83 L219.12,410.31 L217.4,408.72 L215.64,407.11 L213.85,405.52 L212,404 L209.99,402.61 L207.77,401.34 L205.44,400.11 L203.12,398.84 L200.92,397.47 L198.92,395.93 L197.25,394.13 L196,392 L195.13,389.35 L194.52,386.15 L194.17,382.61 L194.06,378.94 L194.2,375.33 L194.57,372.01 L195.17,369.16 L196,367 L197.06,365.56 L198.37,364.67 L199.91,364.2 L201.69,364.03 L203.69,364.05 L205.91,364.13 L208.35,364.15 L211,364 L214.15,363.73 L217.95,363.48 L222.12,363.26 L226.44,363.06 L230.63,362.89 L234.46,362.73 L237.67,362.61 L240,362.5" fill="#5c5c5c" filter="url(#b1)"/><ellipse cx="240" cy="388" rx="26" ry="18" fill="#545454" filter="url(#b4)"/><path d="M190,393 L190.5,393.17 L191.12,393.38 L191.85,393.62 L192.69,393.91 L193.63,394.23 L194.66,394.61 L195.79,395.03 L197,395.5 L198.37,396.03 L199.95,396.62 L201.66,397.26 L203.44,397.94 L205.23,398.67 L206.96,399.42 L208.57,400.2 L210,401 L211.25,401.81 L212.4,402.62 L213.45,403.45 L214.44,404.32 L215.37,405.23 L216.26,406.21 L217.13,407.26 L218,408.4 L218.88,409.58 L219.75,410.78 L220.59,412.03 L221.41,413.35 L222.17,414.78 L222.86,416.34 L223.48,418.07 L224,420 L224.42,422.26 L224.74,424.87 L224.98,427.71 L225.16,430.66 L225.28,433.59 L225.37,436.37 L225.44,438.88 L225.5,441 L225.53,442.76 L225.5,444.3 L225.44,445.65 L225.34,446.81 L225.24,447.81 L225.14,448.66 L225.05,449.39 L225,450 L190,450 z" fill="#8c8c8c" filter="url(#b05)"/><path d="M190,397 L190.51,397.13 L191.16,397.29 L191.94,397.47 L192.81,397.69 L193.77,397.94 L194.8,398.24 L195.89,398.59 L197,399 L198.21,399.47 L199.56,399.99 L201.01,400.57 L202.5,401.19 L203.99,401.85 L205.44,402.54 L206.79,403.26 L208,404 L209.08,404.76 L210.08,405.54 L211.01,406.35 L211.88,407.19 L212.7,408.07 L213.48,408.99 L214.25,409.97 L215,411 L215.74,412.04 L216.47,413.05 L217.18,414.09 L217.84,415.19 L218.47,416.39 L219.04,417.73 L219.56,419.25 L220,421 L220.37,423.1 L220.67,425.55 L220.91,428.25 L221.09,431.06 L221.24,433.87 L221.35,436.54 L221.43,438.96 L221.5,441 L221.53,442.71 L221.5,444.23 L221.44,445.58 L221.34,446.75 L221.24,447.77 L221.14,448.64 L221.05,449.38 L221,450 L190,450 z" fill="#606060" filter="url(#b05)"/><ellipse cx="209" cy="436" rx="7" ry="6" fill="#262626" filter="url(#b1)"/><path d="M199,412 L214,426" stroke="#7a7a7a" stroke-width="1.2" filter="url(#b05)"/>
</g>
<text x="248.65" y="388.4" font-size="12" font-weight="bold" fill="#fff" text-anchor="middle">11 nm</text><line x1="273.6" y1="394.8" x2="270.1" y2="408.1" stroke="#f0f0f0" stroke-width="0.8"/><line x1="280.6" y1="396.9" x2="277.1" y2="410.2" stroke="#f0f0f0" stroke-width="0.8"/><line x1="260.2" y1="398.3" x2="270.1" y2="401.8" stroke="#fafafa" stroke-width="0.9"/><polyline points="267.36,402.38 270.1,401.8 268.34,399.62" fill="none" stroke="#fafafa" stroke-width="0.9"/><rect x="200.1" y="435.8" width="6" height="3.2" fill="#fff"/>
</g>
<rect x="27.0" y="140.8" width="256.6" height="13.6" fill="#fff" stroke="#262626" stroke-width="1.0"/>
<text x="157" y="150.7" font-size="9.3" font-weight="bold" text-anchor="middle" fill="#111" >TiO<tspan font-size="6.3" dy="2.2">2</tspan><tspan dy="-2.2">/C</tspan><tspan font-size="6.3" dy="2.2">2</tspan><tspan dy="-2.2">N-1</tspan></text>
<rect x="27.0" y="240.5" width="256.6" height="14" fill="#fff" stroke="#262626" stroke-width="1.0"/>
<text x="157" y="250.8" font-size="9.3" font-weight="bold" text-anchor="middle" fill="#111" >TiO<tspan font-size="6.3" dy="2.2">2</tspan><tspan dy="-2.2">/C</tspan><tspan font-size="6.3" dy="2.2">2</tspan><tspan dy="-2.2">N-2</tspan></text>
<rect x="27.0" y="340.3" width="256.6" height="13.9" fill="#fff" stroke="#262626" stroke-width="1.0"/>
<text x="157" y="350.5" font-size="9.3" font-weight="bold" text-anchor="middle" fill="#111" >TiO<tspan font-size="6.3" dy="2.2">2</tspan><tspan dy="-2.2">/C</tspan><tspan font-size="6.3" dy="2.2">2</tspan><tspan dy="-2.2">N-3</tspan></text>
<text x="306" y="15.6" font-size="17" font-weight="bold" text-anchor="start" fill="#111" >c</text>
<rect x="333.1" y="4.5" width="149" height="119.8" fill="none" stroke="#262626" stroke-width="1.35"/>
<line x1="330.9" y1="124.3" x2="333.1" y2="124.3" stroke="#1a1a1a" stroke-width="1" />
<line x1="330.9" y1="100.34" x2="333.1" y2="100.34" stroke="#1a1a1a" stroke-width="1" />
<line x1="330.9" y1="76.38" x2="333.1" y2="76.38" stroke="#1a1a1a" stroke-width="1" />
<line x1="330.9" y1="52.42" x2="333.1" y2="52.42" stroke="#1a1a1a" stroke-width="1" />
<line x1="330.9" y1="28.46" x2="333.1" y2="28.46" stroke="#1a1a1a" stroke-width="1" />
<line x1="330.9" y1="4.5" x2="333.1" y2="4.5" stroke="#1a1a1a" stroke-width="1" />
<line x1="331.8" y1="112.32" x2="333.1" y2="112.32" stroke="#1a1a1a" stroke-width="1" />
<line x1="331.8" y1="88.36" x2="333.1" y2="88.36" stroke="#1a1a1a" stroke-width="1" />
<line x1="331.8" y1="64.4" x2="333.1" y2="64.4" stroke="#1a1a1a" stroke-width="1" />
<line x1="331.8" y1="40.44" x2="333.1" y2="40.44" stroke="#1a1a1a" stroke-width="1" />
<line x1="331.8" y1="16.48" x2="333.1" y2="16.48" stroke="#1a1a1a" stroke-width="1" />
<text x="329.5" y="126.8" font-size="7.2" font-weight="normal" text-anchor="end" fill="#000" stroke="#000" stroke-width="0.18">0</text>
<text x="329.5" y="102.84" font-size="7.2" font-weight="normal" text-anchor="end" fill="#000" stroke="#000" stroke-width="0.18">10</text>
<text x="329.5" y="78.88" font-size="7.2" font-weight="normal" text-anchor="end" fill="#000" stroke="#000" stroke-width="0.18">20</text>
<text x="329.5" y="54.92" font-size="7.2" font-weight="normal" text-anchor="end" fill="#000" stroke="#000" stroke-width="0.18">30</text>
<text x="329.5" y="30.96" font-size="7.2" font-weight="normal" text-anchor="end" fill="#000" stroke="#000" stroke-width="0.18">40</text>
<text x="329.5" y="7" font-size="7.2" font-weight="normal" text-anchor="end" fill="#000" stroke="#000" stroke-width="0.18">50</text>
<text transform="translate(316.5,63.8) rotate(-90)" font-size="10.4" font-weight="bold" text-anchor="middle" fill="#111">O<tspan font-size="7.5" dy="1.8">V</tspan><tspan dy="-1.8"> (%)</tspan></text>
<polyline points="351.6,79.4 388.7,44.9 425.7,29.1 462.8,15.3" fill="none" stroke="#666" stroke-width="0.8" stroke-linejoin="round" stroke-dasharray="0.8 3"/>
<circle cx="351.6" cy="79.4" r="2.8" fill="#e8707a"/>
<circle cx="388.7" cy="44.9" r="2.8" fill="#7ccf94"/>
<circle cx="425.7" cy="29.1" r="2.8" fill="#5b8fe0"/>
<circle cx="462.8" cy="15.3" r="2.8" fill="#c08ce8"/>
<line x1="388.7" y1="49.2" x2="388.7" y2="66.8" stroke="#4fb060" stroke-width="0.7" />
<path d="M387.2,66.3 L388.7,69.3 L390.2,66.3 z" fill="#4fb060"/>
<line x1="425.7" y1="33.7" x2="425.7" y2="50.9" stroke="#3a78d8" stroke-width="0.7" />
<path d="M424.2,50.4 L425.7,53.4 L427.2,50.4 z" fill="#3a78d8"/>
<line x1="462.8" y1="19.5" x2="462.8" y2="32.5" stroke="#b070e0" stroke-width="0.7" />
<path d="M461.3,32 L462.8,35 L464.3,32 z" fill="#b070e0"/>
<text x="352.7" y="94.2" font-size="8" font-weight="normal" text-anchor="middle" fill="#000" stroke="#000" stroke-width="0.18">TiO<tspan font-size="5.5" dy="1.6">2</tspan></text>
<text x="388.7" y="77.3" font-size="8" font-weight="normal" text-anchor="middle" fill="#000" stroke="#000" stroke-width="0.18">TiO<tspan font-size="5.5" dy="1.6">2</tspan><tspan dy="-1.6">/C</tspan><tspan font-size="5.5" dy="1.6">2</tspan><tspan dy="-1.6">N-1</tspan></text>
<text x="426.8" y="61.4" font-size="8" font-weight="normal" text-anchor="middle" fill="#000" stroke="#000" stroke-width="0.18">TiO<tspan font-size="5.5" dy="1.6">2</tspan><tspan dy="-1.6">/C</tspan><tspan font-size="5.5" dy="1.6">2</tspan><tspan dy="-1.6">N-2</tspan></text>
<text x="459.9" y="43.4" font-size="8" font-weight="normal" text-anchor="middle" fill="#000" stroke="#000" stroke-width="0.18">TiO<tspan font-size="5.5" dy="1.6">2</tspan><tspan dy="-1.6">/C</tspan><tspan font-size="5.5" dy="1.6">2</tspan><tspan dy="-1.6">N-3</tspan></text>
<text x="511" y="15.5" font-size="17" font-weight="bold" text-anchor="start" fill="#111" >d</text>
<rect x="527.7" y="4.6" width="148.6" height="119.6" fill="none" stroke="#262626" stroke-width="1.35"/>
<line x1="527.7" y1="124.2" x2="527.7" y2="126.4" stroke="#1a1a1a" stroke-width="1" />
<line x1="552.47" y1="124.2" x2="552.47" y2="126.4" stroke="#1a1a1a" stroke-width="1" />
<line x1="577.23" y1="124.2" x2="577.23" y2="126.4" stroke="#1a1a1a" stroke-width="1" />
<line x1="602" y1="124.2" x2="602" y2="126.4" stroke="#1a1a1a" stroke-width="1" />
<line x1="626.77" y1="124.2" x2="626.77" y2="126.4" stroke="#1a1a1a" stroke-width="1" />
<line x1="651.53" y1="124.2" x2="651.53" y2="126.4" stroke="#1a1a1a" stroke-width="1" />
<line x1="676.3" y1="124.2" x2="676.3" y2="126.4" stroke="#1a1a1a" stroke-width="1" />
<line x1="540.08" y1="124.2" x2="540.08" y2="125.5" stroke="#1a1a1a" stroke-width="1" />
<line x1="564.85" y1="124.2" x2="564.85" y2="125.5" stroke="#1a1a1a" stroke-width="1" />
<line x1="589.62" y1="124.2" x2="589.62" y2="125.5" stroke="#1a1a1a" stroke-width="1" />
<line x1="614.38" y1="124.2" x2="614.38" y2="125.5" stroke="#1a1a1a" stroke-width="1" />
<line x1="639.15" y1="124.2" x2="639.15" y2="125.5" stroke="#1a1a1a" stroke-width="1" />
<line x1="663.92" y1="124.2" x2="663.92" y2="125.5" stroke="#1a1a1a" stroke-width="1" />
<text x="527.7" y="134.5" font-size="7.9" font-weight="bold" text-anchor="middle" fill="#111" >2.06</text>
<text x="552.47" y="134.5" font-size="7.9" font-weight="bold" text-anchor="middle" fill="#111" >2.04</text>
<text x="577.23" y="134.5" font-size="7.9" font-weight="bold" text-anchor="middle" fill="#111" >2.02</text>
<text x="602" y="134.5" font-size="7.9" font-weight="bold" text-anchor="middle" fill="#111" >2.00</text>
<text x="626.77" y="134.5" font-size="7.9" font-weight="bold" text-anchor="middle" fill="#111" >1.98</text>
<text x="651.53" y="134.5" font-size="7.9" font-weight="bold" text-anchor="middle" fill="#111" >1.96</text>
<text x="676.3" y="134.5" font-size="7.9" font-weight="bold" text-anchor="middle" fill="#111" >1.94</text>
<text x="601.8" y="144.6" font-size="10.2" font-weight="bold" text-anchor="middle" fill="#111" >g-factor</text>
<text transform="translate(523.2,64.5) rotate(-90)" font-size="10.2" font-weight="bold" text-anchor="middle" fill="#111">Intensity (arb. u.)</text>
<polyline points="528.7,68.42 529.7,68.57 530.7,68.48 531.7,68.6 532.7,68.61 533.7,68.33 534.7,68.3 535.7,68.71 536.7,68.41 537.7,68.4 538.7,68.77 539.7,68.51 540.7,68.69 541.7,68.5 542.7,68.58 543.7,68.33 544.7,68.57 545.7,68.68 546.7,68.5 547.7,68.6 548.7,68.56 549.7,68.25 550.7,68.59 551.7,68.49 552.7,68.34 553.7,68.19 554.7,68.6 555.7,68.39 556.7,68.5 557.7,68.56 558.7,68.46 559.7,68.55 560.7,68.26 561.7,68.44 562.7,68.24 563.7,68.46 564.7,68.4 565.7,67.97 566.7,67.95 567.7,67.94 568.7,68.27 569.7,67.94 570.7,67.97 571.7,67.73 572.7,67.75 573.7,67.58 574.7,67.45 575.7,67.43 576.7,67.26 577.7,67.23 578.7,66.89 579.7,66.73 580.2,66.54 580.7,66.43 581.2,66.07 581.7,65.6 582.2,65.71 582.7,65.5 583.2,65.17 583.7,64.67 584.2,64.37 584.7,63.7 585.2,63.54 585.7,62.88 586.2,62.14 586.7,61.34 587.2,60.96 587.7,60.13 588.2,58.66 588.7,57.85 589.2,56.31 589.7,54.62 590.2,52.91 590.7,51.08 591.2,48.75 591.7,45.61 592.2,42.78 592.7,38.98 593.2,35.4 593.7,30.96 594.2,26.79 594.7,22.48 595.2,18.42 595.7,16.06 596.2,15.25 596.7,17.82 597.2,24.84 597.7,35.77 598.2,50.99 598.7,68.55 599.2,84.41 599.7,97.85 600.2,107.91 600.7,114.43 601.2,116.58 601.7,116.48 602.2,114.1 602.7,110.39 603.2,106.49 603.7,102.51 604.2,98.74 604.7,95.18 605.2,91.98 605.7,89.2 606.2,86.9 606.7,84.54 607.2,82.64 607.7,81.17 608.2,79.53 608.7,78.34 609.2,77.62 609.7,76.47 610.2,75.68 610.7,74.71 611.2,74.3 611.7,73.83 612.2,73.07 612.7,72.95 613.2,72.58 613.7,71.96 614.2,71.94 614.7,71.59 615.2,71.46 615.7,71.08 616.2,71.06 616.7,70.9 617.2,70.38 617.7,70.26 618.2,70.44 618.7,70.46 619.7,69.9 620.7,69.82 621.7,69.74 622.7,69.48 623.7,69.4 624.7,69.28 625.7,69.23 626.7,69.27 627.7,69.06 628.7,69.05 629.7,69.2 630.7,68.79 631.7,69.02 632.7,69.07 633.7,68.83 634.7,68.76 635.7,69.03 636.7,68.73 637.7,68.68 638.7,68.79 639.7,68.9 640.7,68.59 641.7,68.69 642.7,68.68 643.7,68.92 644.7,68.71 645.7,68.91 646.7,68.56 647.7,68.64 648.7,68.79 649.7,68.9 650.7,68.68 651.7,68.56 652.7,68.5 653.7,68.7 654.7,68.53 655.7,68.83 656.7,68.84 657.7,68.51 658.7,68.56 659.7,68.82 660.7,68.73 661.7,68.81 662.7,68.58 663.7,68.47 664.7,68.55 665.7,68.79 666.7,68.53 667.7,68.57 668.7,68.6 669.7,68.6 670.7,68.59 671.7,68.85 672.7,68.46 673.7,68.39 674.7,68.85" fill="none" stroke="#e29bc9" stroke-width="1.15" stroke-linejoin="round" />
<polyline points="528.7,68.75 529.7,68.81 530.7,68.53 531.7,68.78 532.7,68.77 533.7,68.42 534.7,68.68 535.7,68.72 536.7,68.63 537.7,68.56 538.7,68.44 539.7,68.46 540.7,68.4 541.7,68.32 542.7,68.57 543.7,68.42 544.7,68.68 545.7,68.29 546.7,68.71 547.7,68.6 548.7,68.71 549.7,68.69 550.7,68.69 551.7,68.52 552.7,68.23 553.7,68.59 554.7,68.29 555.7,68.35 556.7,68.52 557.7,68.44 558.7,68.37 559.7,68.61 560.7,68.43 561.7,68.28 562.7,68.22 563.7,68.5 564.7,68.28 565.7,68.41 566.7,68.16 567.7,68.05 568.7,68.18 569.7,68.27 570.7,67.9 571.7,68.15 572.7,68.14 573.7,68 574.7,67.92 575.7,67.4 576.7,67.59 577.7,67.55 578.7,66.97 579.7,66.86 580.2,66.73 580.7,66.73 581.2,66.52 581.7,66.38 582.2,66.34 582.7,65.75 583.2,65.54 583.7,65.32 584.2,65.03 584.7,64.67 585.2,64.76 585.7,64.28 586.2,63.43 586.7,63.1 587.2,62.4 587.7,61.7 588.2,60.93 588.7,60.16 589.2,59.08 589.7,57.75 590.2,56.27 590.7,54.73 591.2,52.77 591.7,50.85 592.2,48.5 592.7,45.59 593.2,42.38 593.7,39.11 594.2,35.74 594.7,32.45 595.2,29.55 595.7,27.32 596.2,27.16 596.7,29.17 597.2,34.36 597.7,43.08 598.2,54.96 598.7,68.7 599.2,80.98 599.7,91.89 600.2,99.75 600.7,104.46 601.2,106.52 601.7,106.26 602.2,104.1 602.7,101.56 603.2,98.45 603.7,95.52 604.2,92.52 604.7,89.45 605.2,87.21 605.7,84.94 606.2,82.74 606.7,81.15 607.2,79.51 607.7,78.58 608.2,77.4 608.7,76.55 609.2,75.67 609.7,74.88 610.2,74.28 610.7,73.64 611.2,72.92 611.7,72.74 612.2,72.07 612.7,71.8 613.2,71.82 613.7,71.19 614.2,70.98 614.7,70.77 615.2,70.97 615.7,70.45 616.2,70.22 616.7,70.49 617.2,70.01 617.7,70.25 618.2,70.07 618.7,70.05 619.7,69.95 620.7,69.62 621.7,69.61 622.7,69.13 623.7,69.42 624.7,69.21 625.7,69.25 626.7,68.9 627.7,69.17 628.7,69.22 629.7,68.75 630.7,68.85 631.7,68.94 632.7,69.04 633.7,68.73 634.7,68.68 635.7,68.69 636.7,68.86 637.7,68.91 638.7,68.72 639.7,68.69 640.7,68.7 641.7,68.67 642.7,68.69 643.7,68.51 644.7,68.71 645.7,68.94 646.7,68.66 647.7,68.82 648.7,68.52 649.7,68.78 650.7,68.81 651.7,68.76 652.7,68.68 653.7,68.66 654.7,68.74 655.7,68.86 656.7,68.48 657.7,68.45 658.7,68.78 659.7,68.86 660.7,68.66 661.7,68.62 662.7,68.75 663.7,68.48 664.7,68.52 665.7,68.49 666.7,68.68 667.7,68.54 668.7,68.5 669.7,68.73 670.7,68.86 671.7,68.53 672.7,68.73 673.7,68.58 674.7,68.8" fill="none" stroke="#79a8b9" stroke-width="1.15" stroke-linejoin="round" />
<polyline points="528.7,68.62 529.7,68.46 530.7,68.44 531.7,68.34 532.7,68.56 533.7,68.51 534.7,68.41 535.7,68.5 536.7,68.48 537.7,68.7 538.7,68.39 539.7,68.81 540.7,68.55 541.7,68.61 542.7,68.54 543.7,68.72 544.7,68.71 545.7,68.58 546.7,68.54 547.7,68.66 548.7,68.72 549.7,68.49 550.7,68.65 551.7,68.76 552.7,68.51 553.7,68.38 554.7,68.38 555.7,68.62 556.7,68.59 557.7,68.72 558.7,68.66 559.7,68.35 560.7,68.31 561.7,68.34 562.7,68.29 563.7,68.53 564.7,68.6 565.7,68.6 566.7,68.26 567.7,68.54 568.7,68.24 569.7,68.27 570.7,68.39 571.7,68.04 572.7,68 573.7,68.32 574.7,68 575.7,67.96 576.7,68 577.7,67.96 578.7,67.52 579.7,67.55 580.2,67.53 580.7,67.47 581.2,67.24 581.7,67.33 582.2,67.4 582.7,67 583.2,66.94 583.7,66.57 584.2,66.47 584.7,66.48 585.2,65.98 585.7,66.12 586.2,65.85 586.7,65.13 587.2,65.19 587.7,64.49 588.2,64.22 588.7,63.67 589.2,62.81 589.7,62.28 590.2,61.44 590.7,60.55 591.2,59.18 591.7,58.16 592.2,56.81 592.7,55.04 593.2,53.15 593.7,50.96 594.2,49.09 594.7,46.99 595.2,45.4 595.7,44.17 596.2,43.9 596.7,44.96 597.2,48.33 597.7,53.53 598.2,60.33 598.7,68.79 599.2,76.33 599.7,82.69 600.2,88.01 600.7,90.58 601.2,91.85 601.7,91.84 602.2,90.64 602.7,88.94 603.2,87.08 603.7,85.04 604.2,83.1 604.7,81.32 605.2,79.72 605.7,78.68 606.2,77.51 606.7,76.36 607.2,75.55 607.7,74.58 608.2,73.85 608.7,73.32 609.2,73.05 609.7,72.19 610.2,72.03 610.7,71.56 611.2,71.52 611.7,71.05 612.2,70.8 612.7,70.63 613.2,70.52 613.7,70.47 614.2,70.12 614.7,70.23 615.2,69.75 615.7,69.72 616.2,69.54 616.7,69.47 617.2,69.72 617.7,69.63 618.2,69.29 618.7,69.24 619.7,69.25 620.7,69.33 621.7,69.29 622.7,69.2 623.7,69.07 624.7,68.8 625.7,68.89 626.7,68.75 627.7,68.89 628.7,68.88 629.7,68.68 630.7,68.68 631.7,68.93 632.7,68.54 633.7,68.91 634.7,68.94 635.7,68.96 636.7,68.67 637.7,68.74 638.7,68.75 639.7,68.77 640.7,68.93 641.7,68.78 642.7,68.58 643.7,68.86 644.7,68.66 645.7,68.72 646.7,68.78 647.7,68.41 648.7,68.79 649.7,68.73 650.7,68.65 651.7,68.66 652.7,68.62 653.7,68.49 654.7,68.65 655.7,68.41 656.7,68.64 657.7,68.71 658.7,68.6 659.7,68.66 660.7,68.86 661.7,68.82 662.7,68.44 663.7,68.77 664.7,68.69 665.7,68.4 666.7,68.55 667.7,68.49 668.7,68.41 669.7,68.64 670.7,68.83 671.7,68.53 672.7,68.8 673.7,68.71 674.7,68.43" fill="none" stroke="#8fd9ad" stroke-width="1.15" stroke-linejoin="round" />
<polyline points="528.7,68.77 529.7,68.64 530.7,68.8 531.7,68.7 532.7,68.71 533.7,68.51 534.7,68.74 535.7,68.8 536.7,68.77 537.7,68.56 538.7,68.71 539.7,68.58 540.7,68.39 541.7,68.36 542.7,68.37 543.7,68.43 544.7,68.41 545.7,68.58 546.7,68.68 547.7,68.6 548.7,68.54 549.7,68.65 550.7,68.48 551.7,68.55 552.7,68.7 553.7,68.52 554.7,68.41 555.7,68.76 556.7,68.67 557.7,68.49 558.7,68.49 559.7,68.56 560.7,68.59 561.7,68.4 562.7,68.29 563.7,68.39 564.7,68.67 565.7,68.34 566.7,68.49 567.7,68.35 568.7,68.35 569.7,68.32 570.7,68.42 571.7,68.29 572.7,68.2 573.7,68.22 574.7,68.23 575.7,68.36 576.7,68.12 577.7,68.06 578.7,68.23 579.7,68.16 580.2,68.27 580.7,67.91 581.2,68.05 581.7,68.01 582.2,67.78 582.7,68.2 583.2,67.77 583.7,67.64 584.2,67.76 584.7,67.52 585.2,67.66 585.7,67.42 586.2,67.2 586.7,67.03 587.2,67.22 587.7,66.82 588.2,66.89 588.7,66.5 589.2,66.48 589.7,65.86 590.2,65.5 590.7,65.11 591.2,64.93 591.7,64.32 592.2,63.58 592.7,62.78 593.2,62.33 593.7,61.66 594.2,60.62 594.7,59.5 595.2,58.78 595.7,58.31 596.2,58.26 596.7,58.71 597.2,60.01 597.7,62.45 598.2,65.47 598.7,68.45 599.2,71.98 599.7,74.45 600.2,76.63 600.7,77.9 601.2,78.39 601.7,77.86 602.2,77.52 602.7,76.99 603.2,76.37 603.7,75.15 604.2,74.48 604.7,74.06 605.2,73.06 605.7,72.64 606.2,72.12 606.7,71.86 607.2,71.62 607.7,70.92 608.2,70.92 608.7,70.68 609.2,70.52 609.7,70.19 610.2,70.22 610.7,69.8 611.2,69.7 611.7,69.5 612.2,69.68 612.7,69.44 613.2,69.26 613.7,69.15 614.2,69.36 614.7,69.25 615.2,69.26 615.7,69.05 616.2,69.06 616.7,68.86 617.2,69.11 617.7,68.74 618.2,68.93 618.7,69.05 619.7,68.97 620.7,68.65 621.7,68.69 622.7,68.97 623.7,68.84 624.7,68.94 625.7,68.92 626.7,68.7 627.7,68.91 628.7,68.82 629.7,68.61 630.7,68.62 631.7,68.46 632.7,68.62 633.7,68.89 634.7,68.46 635.7,68.69 636.7,68.46 637.7,68.44 638.7,68.72 639.7,68.51 640.7,68.41 641.7,68.46 642.7,68.71 643.7,68.67 644.7,68.38 645.7,68.49 646.7,68.86 647.7,68.48 648.7,68.65 649.7,68.58 650.7,68.76 651.7,68.67 652.7,68.76 653.7,68.63 654.7,68.46 655.7,68.45 656.7,68.4 657.7,68.78 658.7,68.42 659.7,68.37 660.7,68.85 661.7,68.46 662.7,68.81 663.7,68.4 664.7,68.59 665.7,68.47 666.7,68.77 667.7,68.67 668.7,68.68 669.7,68.74 670.7,68.79 671.7,68.53 672.7,68.66 673.7,68.58 674.7,68.41" fill="none" stroke="#ee6a3c" stroke-width="1.15" stroke-linejoin="round" />
<line x1="529.4" y1="11.4" x2="542.5" y2="11.4" stroke="#ee6a3c" stroke-width="1.4" />
<text x="543.9" y="13.4" font-size="5.6" font-weight="bold" text-anchor="start" fill="#222" >TiO<tspan font-size="4" dy="1">2</tspan></text>
<line x1="529.4" y1="20.9" x2="542.5" y2="20.9" stroke="#8fd9ad" stroke-width="1.4" />
<text x="543.9" y="22.9" font-size="5.6" font-weight="bold" text-anchor="start" fill="#222" >TiO<tspan font-size="4" dy="1">2</tspan><tspan dy="-1">/C</tspan><tspan font-size="4" dy="1">2</tspan><tspan dy="-1">N-1</tspan></text>
<line x1="529.4" y1="30.4" x2="542.5" y2="30.4" stroke="#79a8b9" stroke-width="1.4" />
<text x="543.9" y="32.4" font-size="5.6" font-weight="bold" text-anchor="start" fill="#222" >TiO<tspan font-size="4" dy="1">2</tspan><tspan dy="-1">/C</tspan><tspan font-size="4" dy="1">2</tspan><tspan dy="-1">N-2</tspan></text>
<line x1="529.4" y1="39.9" x2="542.5" y2="39.9" stroke="#e29bc9" stroke-width="1.4" />
<text x="543.9" y="41.9" font-size="5.6" font-weight="bold" text-anchor="start" fill="#222" >TiO<tspan font-size="4" dy="1">2</tspan><tspan dy="-1">/C</tspan><tspan font-size="4" dy="1">2</tspan><tspan dy="-1">N-3</tspan></text>
<text x="614.7" y="56.9" font-size="6.9" font-weight="bold" text-anchor="start" fill="#222" >g=2.003</text>
<line x1="614" y1="57.5" x2="601.5" y2="65.5" stroke="#777" stroke-width="0.6" />
<path d="M603.6,62.9 L600.6,66.2 L605,65.2 z" fill="#777"/>
<text x="306" y="166" font-size="17" font-weight="bold" text-anchor="start" fill="#111" >e</text>
<rect x="333" y="156.2" width="148.6" height="119.7" fill="none" stroke="#262626" stroke-width="1.35"/>
<line x1="333" y1="275.9" x2="333" y2="278.1" stroke="#1a1a1a" stroke-width="1" />
<line x1="362.72" y1="275.9" x2="362.72" y2="278.1" stroke="#1a1a1a" stroke-width="1" />
<line x1="392.44" y1="275.9" x2="392.44" y2="278.1" stroke="#1a1a1a" stroke-width="1" />
<line x1="422.16" y1="275.9" x2="422.16" y2="278.1" stroke="#1a1a1a" stroke-width="1" />
<line x1="451.88" y1="275.9" x2="451.88" y2="278.1" stroke="#1a1a1a" stroke-width="1" />
<line x1="481.6" y1="275.9" x2="481.6" y2="278.1" stroke="#1a1a1a" stroke-width="1" />
<line x1="347.86" y1="275.9" x2="347.86" y2="277.2" stroke="#1a1a1a" stroke-width="1" />
<line x1="377.58" y1="275.9" x2="377.58" y2="277.2" stroke="#1a1a1a" stroke-width="1" />
<line x1="407.3" y1="275.9" x2="407.3" y2="277.2" stroke="#1a1a1a" stroke-width="1" />
<line x1="437.02" y1="275.9" x2="437.02" y2="277.2" stroke="#1a1a1a" stroke-width="1" />
<line x1="466.74" y1="275.9" x2="466.74" y2="277.2" stroke="#1a1a1a" stroke-width="1" />
<text x="333" y="285.8" font-size="7.9" font-weight="bold" text-anchor="middle" fill="#111" >200</text>
<text x="362.72" y="285.8" font-size="7.9" font-weight="bold" text-anchor="middle" fill="#111" >300</text>
<text x="392.44" y="285.8" font-size="7.9" font-weight="bold" text-anchor="middle" fill="#111" >400</text>
<text x="422.16" y="285.8" font-size="7.9" font-weight="bold" text-anchor="middle" fill="#111" >500</text>
<text x="451.88" y="285.8" font-size="7.9" font-weight="bold" text-anchor="middle" fill="#111" >600</text>
<text x="481.6" y="285.8" font-size="7.9" font-weight="bold" text-anchor="middle" fill="#111" >700</text>
<text x="407.2" y="295.8" font-size="10.2" font-weight="bold" text-anchor="middle" fill="#111" >Wavelength (nm)</text>
<text transform="translate(328,215.5) rotate(-90)" font-size="10.2" font-weight="bold" text-anchor="middle" fill="#111">Absorbance (arb. u.)</text>
<polyline points="333,195.72 333.45,195.44 333.89,195.64 334.34,195.03 334.78,195.37 335.23,195.32 335.67,195.62 336.12,195.02 336.57,195.35 337.01,195.57 337.46,195.24 337.9,195.82 338.35,196.11 338.8,195.9 339.24,196.24 339.69,196.32 340.13,196.05 340.58,196.31 341.02,197.08 341.47,196.55 341.92,196.77 342.36,196.55 342.81,196.82 343.25,196.89 343.7,197.78 344.14,197.7 344.59,197.97 345.04,198.2 345.48,197.94 345.93,198.37 346.37,198.07 346.82,198.04 347.27,198.65 347.71,198.68 348.16,198.78 348.6,198.36 349.05,198.68 349.49,198.32 349.94,198.91 350.39,198.82 350.83,198.16 351.28,198.75 351.72,197.94 352.17,197.79 352.62,198.33 353.06,197.81 353.51,197.94 353.95,197.96 354.4,197.25 354.84,197.85 355.29,197.27 355.74,197.31 356.18,197.12 356.63,197.4 357.07,197.3 357.52,196.74 357.96,196.45 358.41,196.54 358.86,196.55 359.3,196.12 359.75,196.1 360.19,196.6 360.64,196.44 361.09,196.61 361.53,196.51 361.98,196.31 362.42,195.7 362.87,195.38 363.31,195.43 363.76,195.48 364.21,195.44 364.65,195.37 365.1,195.1 365.54,195.52 365.99,194.88 366.44,195.01 366.88,195.4 367.33,195.3 367.77,194.79 368.22,194.75 368.66,195.35 369.11,194.6 369.56,194.8 370,195.3 370.45,195.42 370.89,195.19 371.34,195.23 371.78,195.56 372.23,196.33 372.68,196.25 373.12,197.01 373.57,197.09 374.01,197.59 374.46,196.98 374.91,197.49 375.35,197.72 375.8,198.56 376.24,198.93 376.69,199.12 377.13,200.11 377.58,200.17 378.03,200.9 378.47,201.33 378.92,202.37 379.36,202.43 379.81,202.69 380.25,202.85 380.7,203.62 381.15,204 381.59,204.27 382.04,204.59 382.48,204.73 382.93,204.67 383.38,204.75 383.82,205.11 384.27,205.21 384.71,205.17 385.16,205.36 385.6,205.3 386.05,205.23 386.5,205.21 386.94,205.18 387.39,205.45 387.83,205.56 388.28,205.58 388.73,205.41 389.17,205.49 389.62,205.6 390.06,205.56 390.51,205.47 390.95,205.39 391.4,205.43 391.85,205.29 392.29,205.28 392.74,205.48 393.18,205.59 393.63,205.4 394.07,205.33 394.52,205.3 394.97,205.33 395.41,205.45 395.86,205.3 396.3,205.48 396.75,205.14 397.2,205.19 397.64,205.25 398.09,205.18 398.53,205.34 398.98,205.31 399.42,205.32 399.87,205.17 400.32,204.92 400.76,205.11 401.21,205.07 401.65,205.02 402.1,204.91 402.54,205.06 402.99,205.11 403.44,204.77 403.88,204.97 404.33,204.83 404.77,204.86 405.22,204.99 405.67,205 406.11,204.85 406.56,204.65 407,204.93 407.45,204.62 407.89,204.68 408.34,204.85 408.79,204.64 409.23,204.61 409.68,204.88 410.12,204.88 410.57,204.63 411.01,204.66 411.46,204.62 411.91,204.57 412.35,204.62 412.8,204.93 413.24,204.58 413.69,204.66 414.14,204.66 414.58,204.63 415.03,204.83 415.47,204.94 415.92,205 416.36,205.55 416.81,205.63 417.26,205.31 417.7,205.43 418.15,205.71 418.59,205.37 419.04,205.46 419.49,205.56 419.93,205.49 420.38,205.62 420.82,205.44 421.27,205.54 421.71,205.84 422.16,205.54 422.61,205.87 423.05,205.6 423.5,205.95 423.94,205.85 424.39,205.86 424.83,205.69 425.28,205.68 425.73,205.99 426.17,205.79 426.62,205.82 427.06,206.11 427.51,206.16 427.96,205.86 428.4,206.26 428.85,206.13 429.29,206.1 429.74,206.03 430.18,206.18 430.63,206.45 431.08,206.21 431.52,206.19 431.97,206.23 432.41,206.26 432.86,206.39 433.31,206.66 433.75,206.37 434.2,206.45 434.64,206.8 435.09,206.86 435.53,206.9 435.98,206.65 436.43,206.74 436.87,207.03 437.32,206.89 437.76,207.02 438.21,206.91 438.65,206.84 439.1,207.02 439.55,207.23 439.99,207.3 440.44,207.26 440.88,207.27 441.33,207.35 441.78,207.37 442.22,207.46 442.67,207.63 443.11,207.43 443.56,207.64 444,207.84 444.45,207.86 444.9,207.65 445.34,208.02 445.79,208.02 446.23,207.81 446.68,207.91 447.12,207.94 447.57,207.94 448.02,208.37 448.46,208.21 448.91,208.45 449.35,208.21 449.8,208.23 450.25,208.64 450.69,208.67 451.14,208.81 451.58,208.75 452.03,208.75 452.47,208.92 452.92,208.71 453.37,208.96 453.81,208.98 454.26,208.93 454.7,209.18 455.15,209.14 455.6,209.28 456.04,209.29 456.49,209.34 456.93,209.43 457.38,209.59 457.82,209.82 458.27,209.87 458.72,209.91 459.16,209.97 459.61,209.83 460.05,210.17 460.5,209.96 460.94,209.98 461.39,210.2 461.84,210.37 462.28,210.29 462.73,210.49 463.17,210.42 463.62,210.77 464.07,210.64 464.51,210.73 464.96,210.82 465.4,211.04 465.85,211.16 466.29,211.06 466.74,211.1 467.19,211.25 467.63,211.11 468.08,211.34 468.52,211.59 468.97,211.64 469.41,211.43 469.86,211.83 470.31,211.73 470.75,212.05 471.2,211.89 471.64,211.91 472.09,212.13 472.54,212.35 472.98,212.25 473.43,212.51 473.87,212.54 474.32,212.48 474.76,212.54 475.21,212.71 475.66,212.76 476.1,212.83 476.55,213.03 476.99,213.21 477.44,213.18 477.88,213.1 478.33,213.22 478.78,213.37 479.22,213.56 479.67,213.46 480.11,213.53 480.56,213.71 481.01,213.79 481.45,213.78" fill="none" stroke="#e48fc9" stroke-width="1.15" stroke-linejoin="round" />
<polyline points="333,186.24 333.45,186.58 333.89,186.17 334.34,186.36 334.78,186.46 335.23,186.5 335.67,186.62 336.12,186.22 336.57,186.54 337.01,186.07 337.46,186.94 337.9,186.56 338.35,186.79 338.8,187.34 339.24,186.88 339.69,186.93 340.13,187.72 340.58,187.65 341.02,187.29 341.47,187.4 341.92,187.88 342.36,187.69 342.81,188.68 343.25,188.19 343.7,188.44 344.14,188.71 344.59,188.98 345.04,189.05 345.48,189.39 345.93,189.55 346.37,189.45 346.82,189.23 347.27,190.21 347.71,190.01 348.16,189.47 348.6,189.89 349.05,190.23 349.49,190.49 349.94,189.56 350.39,189.48 350.83,189.91 351.28,189.8 351.72,190.19 352.17,190.04 352.62,189.44 353.06,189.42 353.51,189.46 353.95,189.63 354.4,188.82 354.84,188.87 355.29,188.43 355.74,188.84 356.18,188.09 356.63,188.86 357.07,188.32 357.52,188.24 357.96,187.62 358.41,187.64 358.86,187.75 359.3,188.01 359.75,187.57 360.19,187.19 360.64,187.76 361.09,187.31 361.53,187.05 361.98,186.59 362.42,186.56 362.87,187.03 363.31,186.13 363.76,186.41 364.21,186.37 364.65,186 365.1,186.3 365.54,186.35 365.99,186.22 366.44,186.04 366.88,185.47 367.33,185.3 367.77,185.68 368.22,185.58 368.66,185.52 369.11,186.27 369.56,185.72 370,186.46 370.45,186.73 370.89,186.11 371.34,187.12 371.78,186.86 372.23,186.96 372.68,187.27 373.12,187.49 373.57,188.38 374.01,188.76 374.46,189.78 374.91,190.41 375.35,190.38 375.8,191.59 376.24,192.59 376.69,193.55 377.13,194.98 377.58,196.56 378.03,198.78 378.47,200.48 378.92,202.56 379.36,205.24 379.81,208.29 380.25,211.48 380.7,214.57 381.15,218.17 381.59,221.48 382.04,225.19 382.48,228.65 382.93,231.85 383.38,235.28 383.82,238.12 384.27,240.92 384.71,243.42 385.16,245.64 385.6,247.51 386.05,249.05 386.5,250.8 386.94,252.08 387.39,253 387.83,253.94 388.28,254.57 388.73,255.46 389.17,255.91 389.62,256.17 390.06,256.78 390.51,257.16 390.95,257.16 391.4,257.64 391.85,257.62 392.29,257.65 392.74,257.99 393.18,257.95 393.63,258.2 394.07,258.22 394.52,258.1 394.97,258.33 395.41,258.51 395.86,258.4 396.3,258.47 396.75,258.63 397.2,258.5 397.64,258.55 398.09,258.61 398.53,258.74 398.98,258.51 399.42,258.49 399.87,258.78 400.32,258.72 400.76,258.64 401.21,258.9 401.65,258.92 402.1,258.8 402.54,259 402.99,258.96 403.44,258.94 403.88,258.78 404.33,258.68 404.77,258.97 405.22,259.01 405.67,258.87 406.11,258.94 406.56,259 407,258.89 407.45,259.08 407.89,259.05 408.34,259 408.79,258.9 409.23,259.1 409.68,259.02 410.12,259.2 410.57,259 411.01,259.11 411.46,259.05 411.91,259.15 412.35,259.23 412.8,259.06 413.24,259.06 413.69,259.25 414.14,259.16 414.58,259.3 415.03,259.18 415.47,259.17 415.92,259.36 416.36,259.54 416.81,259.53 417.26,259.41 417.7,259.38 418.15,259.26 418.59,259.37 419.04,259.4 419.49,259.67 419.93,259.36 420.38,259.71 420.82,259.54 421.27,259.54 421.71,259.49 422.16,259.79 422.61,259.49 423.05,259.66 423.5,259.66 423.94,259.55 424.39,259.58 424.83,259.9 425.28,259.84 425.73,259.84 426.17,259.92 426.62,259.62 427.06,259.88 427.51,259.92 427.96,259.72 428.4,259.83 428.85,260.06 429.29,259.82 429.74,260.01 430.18,259.79 430.63,260.01 431.08,259.87 431.52,259.98 431.97,259.94 432.41,260.16 432.86,260.13 433.31,260.05 433.75,260.14 434.2,260.06 434.64,260.23 435.09,260.02 435.53,260.16 435.98,260.19 436.43,260.13 436.87,260.01 437.32,260.08 437.76,260.29 438.21,260.13 438.65,260.37 439.1,260.29 439.55,260.48 439.99,260.46 440.44,260.43 440.88,260.31 441.33,260.19 441.78,260.41 442.22,260.51 442.67,260.6 443.11,260.33 443.56,260.33 444,260.67 444.45,260.6 444.9,260.51 445.34,260.63 445.79,260.41 446.23,260.59 446.68,260.66 447.12,260.65 447.57,260.49 448.02,260.5 448.46,260.71 448.91,260.83 449.35,260.55 449.8,260.52 450.25,260.57 450.69,260.87 451.14,260.73 451.58,260.77 452.03,261 452.47,260.87 452.92,260.75 453.37,260.94 453.81,260.68 454.26,260.81 454.7,260.99 455.15,260.8 455.6,260.76 456.04,260.98 456.49,260.92 456.93,261.19 457.38,260.86 457.82,261.16 458.27,261.01 458.72,261.2 459.16,261.07 459.61,261.18 460.05,261.06 460.5,261.04 460.94,261.15 461.39,261.3 461.84,261.14 462.28,261.11 462.73,261.2 463.17,261.09 463.62,261.2 464.07,261.32 464.51,261.33 464.96,261.37 465.4,261.26 465.85,261.17 466.29,261.19 466.74,261.34 467.19,261.3 467.63,261.46 468.08,261.36 468.52,261.58 468.97,261.53 469.41,261.57 469.86,261.62 470.31,261.55 470.75,261.53 471.2,261.5 471.64,261.42 472.09,261.73 472.54,261.63 472.98,261.49 473.43,261.84 473.87,261.72 474.32,261.76 474.76,261.7 475.21,261.59 475.66,261.96 476.1,261.65 476.55,261.74 476.99,262.01 477.44,261.68 477.88,261.85 478.33,261.86 478.78,261.79 479.22,262.07 479.67,261.89 480.11,261.74 480.56,261.95 481.01,261.78 481.45,262.08" fill="none" stroke="#f26b3a" stroke-width="1.15" stroke-linejoin="round" />
<polyline points="333,185.55 333.45,185.57 333.89,184.26 334.34,185.19 334.78,184.64 335.23,184.92 335.67,184.71 336.12,184.78 336.57,184.61 337.01,185.44 337.46,184.74 337.9,186.18 338.35,184.93 338.8,186.45 339.24,185.43 339.69,185.42 340.13,186.56 340.58,186.4 341.02,186.91 341.47,186.68 341.92,187.02 342.36,186.36 342.81,187.41 343.25,187.32 343.7,188.16 344.14,186.88 344.59,187.12 345.04,188.18 345.48,188.7 345.93,188.08 346.37,188.63 346.82,188.52 347.27,188.37 347.71,188.57 348.16,188.84 348.6,188.04 349.05,188.49 349.49,189.15 349.94,188.43 350.39,188.73 350.83,188.37 351.28,188.46 351.72,188.83 352.17,188.88 352.62,189.1 353.06,188.26 353.51,187.73 353.95,187.8 354.4,187.25 354.84,187.39 355.29,187.77 355.74,187.67 356.18,186.97 356.63,186.75 357.07,186.49 357.52,186.48 357.96,186.83 358.41,186.34 358.86,187.15 359.3,186.55 359.75,186.09 360.19,186.1 360.64,185.38 361.09,186.29 361.53,186.19 361.98,185.48 362.42,185.89 362.87,185.08 363.31,184.87 363.76,184.75 364.21,184.58 364.65,185.08 365.1,185.02 365.54,185.05 365.99,184.03 366.44,184.96 366.88,184.47 367.33,184.29 367.77,184.47 368.22,184.37 368.66,184.05 369.11,184.4 369.56,184.85 370,185.06 370.45,185.48 370.89,184.55 371.34,185.76 371.78,185.82 372.23,185.91 372.68,186.56 373.12,185.58 373.57,186.86 374.01,187.42 374.46,186.68 374.91,187.89 375.35,189 375.8,188.71 376.24,190.36 376.69,191.4 377.13,191.83 377.58,192.73 378.03,194.38 378.47,197.07 378.92,198.46 379.36,200.52 379.81,203.12 380.25,206.41 380.7,208.28 381.15,210.82 381.59,214.02 382.04,216.18 382.48,218.6 382.93,221.13 383.38,222.66 383.82,224.27 384.27,226.25 384.71,227.14 385.16,228.21 385.6,229.56 386.05,229.9 386.5,230.94 386.94,231.13 387.39,231.55 387.83,231.87 388.28,232.38 388.73,232.65 389.17,232.77 389.62,233.03 390.06,233.07 390.51,233.53 390.95,233.72 391.4,233.72 391.85,233.87 392.29,233.51 392.74,233.71 393.18,233.77 393.63,233.82 394.07,234.38 394.52,234.42 394.97,234.49 395.41,234.35 395.86,234.15 396.3,234.4 396.75,234.25 397.2,234.82 397.64,234.5 398.09,234.58 398.53,235.04 398.98,234.66 399.42,235.16 399.87,234.85 400.32,235.13 400.76,234.86 401.21,235.39 401.65,235.16 402.1,235.19 402.54,235.44 402.99,235.46 403.44,235.32 403.88,235.31 404.33,235.64 404.77,235.37 405.22,235.95 405.67,235.69 406.11,235.65 406.56,235.81 407,235.74 407.45,235.93 407.89,236.13 408.34,236.11 408.79,236.13 409.23,236.16 409.68,236.34 410.12,236.58 410.57,236.44 411.01,236.7 411.46,236.59 411.91,236.44 412.35,236.53 412.8,237 413.24,236.84 413.69,236.85 414.14,236.99 414.58,237.25 415.03,237.03 415.47,237.09 415.92,237.15 416.36,237 416.81,237.38 417.26,237.41 417.7,237.48 418.15,237.52 418.59,237.59 419.04,237.8 419.49,237.55 419.93,238.09 420.38,237.63 420.82,238.14 421.27,237.79 421.71,238.23 422.16,237.97 422.61,237.92 423.05,238.26 423.5,238.51 423.94,238.57 424.39,238.65 424.83,238.78 425.28,238.29 425.73,238.54 426.17,238.44 426.62,238.9 427.06,238.78 427.51,239.01 427.96,239.11 428.4,239.29 428.85,239.16 429.29,239.34 429.74,239.21 430.18,238.99 430.63,239.54 431.08,239.13 431.52,239.19 431.97,239.69 432.41,239.43 432.86,239.72 433.31,239.4 433.75,239.57 434.2,239.94 434.64,239.6 435.09,239.94 435.53,240.26 435.98,239.89 436.43,240.25 436.87,240.34 437.32,240.32 437.76,240.47 438.21,240.5 438.65,240.15 439.1,240.32 439.55,240.59 439.99,240.91 440.44,240.52 440.88,240.81 441.33,240.59 441.78,241.09 442.22,240.91 442.67,241.02 443.11,241.17 443.56,240.91 444,241.33 444.45,241.44 444.9,241.54 445.34,241.25 445.79,241.29 446.23,241.31 446.68,241.81 447.12,241.6 447.57,241.63 448.02,241.77 448.46,241.94 448.91,241.78 449.35,241.85 449.8,242.17 450.25,242.24 450.69,242.02 451.14,241.95 451.58,242.52 452.03,242.47 452.47,242.45 452.92,242.4 453.37,242.79 453.81,242.54 454.26,242.47 454.7,242.47 455.15,242.68 455.6,242.89 456.04,242.81 456.49,243.22 456.93,243.11 457.38,243.06 457.82,243.24 458.27,243.27 458.72,243.34 459.16,243.33 459.61,243.41 460.05,243.45 460.5,243.72 460.94,243.4 461.39,243.82 461.84,243.59 462.28,243.98 462.73,243.58 463.17,243.89 463.62,243.93 464.07,244.15 464.51,243.91 464.96,244.01 465.4,243.99 465.85,244.31 466.29,244.39 466.74,244.1 467.19,244.27 467.63,244.35 468.08,244.87 468.52,244.63 468.97,244.76 469.41,244.65 469.86,244.94 470.31,245.09 470.75,245.07 471.2,244.73 471.64,245.06 472.09,245.15 472.54,244.95 472.98,245.46 473.43,245.24 473.87,245.29 474.32,245.55 474.76,245.59 475.21,245.6 475.66,245.88 476.1,245.74 476.55,245.69 476.99,245.59 477.44,245.94 477.88,245.89 478.33,246.06 478.78,246.01 479.22,245.87 479.67,245.95 480.11,246.09 480.56,246.11 481.01,246.63 481.45,246.53" fill="none" stroke="#7dd3a0" stroke-width="1.15" stroke-linejoin="round" />
<polyline points="333,183.61 333.45,184.28 333.89,184.13 334.34,183.27 334.78,184.31 335.23,183.56 335.67,184.76 336.12,183.54 336.57,183.83 337.01,183.88 337.46,184.9 337.9,184.96 338.35,184.73 338.8,184.22 339.24,184.79 339.69,185.35 340.13,184.53 340.58,185.98 341.02,186.02 341.47,186.32 341.92,186.13 342.36,186.16 342.81,186.86 343.25,185.96 343.7,186.17 344.14,186.05 344.59,186.29 345.04,187.36 345.48,186.45 345.93,187.56 346.37,187.16 346.82,188 347.27,187.92 347.71,187.9 348.16,188.21 348.6,187.06 349.05,187.43 349.49,187.6 349.94,187.69 350.39,188.03 350.83,188.3 351.28,188.03 351.72,188.24 352.17,187.81 352.62,187.19 353.06,187.31 353.51,187.55 353.95,187.52 354.4,186.72 354.84,186.56 355.29,186.81 355.74,186.09 356.18,186.94 356.63,185.48 357.07,186.32 357.52,185.94 357.96,185.37 358.41,185.81 358.86,185.54 359.3,186.15 359.75,185.9 360.19,185.33 360.64,185.63 361.09,185.52 361.53,184.31 361.98,185.17 362.42,185.05 362.87,185.15 363.31,184.68 363.76,184 364.21,183.59 364.65,184.15 365.1,183.37 365.54,184.1 365.99,183.74 366.44,184.04 366.88,183.29 367.33,183.18 367.77,184.07 368.22,183.71 368.66,183.32 369.11,183.65 369.56,183.54 370,183.95 370.45,183.88 370.89,183.68 371.34,184.89 371.78,184.94 372.23,184.97 372.68,184.49 373.12,184.64 373.57,185.77 374.01,186.26 374.46,186.42 374.91,186.24 375.35,187.56 375.8,187.91 376.24,188.45 376.69,189.66 377.13,190.48 377.58,191.97 378.03,193.47 378.47,195.33 378.92,195.69 379.36,198.17 379.81,200.62 380.25,202.12 380.7,203.88 381.15,205.94 381.59,207.26 382.04,209.4 382.48,210.84 382.93,212.19 383.38,213.23 383.82,214.46 384.27,215.06 384.71,216.06 385.16,216.55 385.6,217.49 386.05,217.87 386.5,218.05 386.94,218.54 387.39,218.6 387.83,218.91 388.28,218.89 388.73,219.48 389.17,219.58 389.62,219.71 390.06,219.42 390.51,219.97 390.95,219.59 391.4,220.02 391.85,220.06 392.29,219.88 392.74,220.18 393.18,220.54 393.63,220.45 394.07,220.34 394.52,220.71 394.97,220.51 395.41,220.9 395.86,220.67 396.3,220.55 396.75,221.15 397.2,220.68 397.64,220.85 398.09,221.23 398.53,220.9 398.98,221.23 399.42,221.48 399.87,221.39 400.32,221.31 400.76,221.62 401.21,221.73 401.65,221.65 402.1,221.74 402.54,221.62 402.99,221.74 403.44,222.16 403.88,222.21 404.33,221.69 404.77,221.88 405.22,221.96 405.67,222.37 406.11,222.08 406.56,222.12 407,222.55 407.45,222.26 407.89,222.81 408.34,222.56 408.79,222.89 409.23,222.91 409.68,222.61 410.12,223.02 410.57,222.86 411.01,222.81 411.46,222.77 411.91,223.23 412.35,223.21 412.8,223.13 413.24,223.51 413.69,223.19 414.14,223.41 414.58,223.26 415.03,223.48 415.47,223.87 415.92,223.7 416.36,223.56 416.81,223.68 417.26,223.99 417.7,223.83 418.15,224.27 418.59,223.84 419.04,224.39 419.49,224.3 419.93,224.49 420.38,224.28 420.82,224.17 421.27,224.3 421.71,224.64 422.16,224.34 422.61,224.46 423.05,224.93 423.5,225.05 423.94,225.1 424.39,225.16 424.83,225.05 425.28,225.31 425.73,225.27 426.17,225.25 426.62,225.24 427.06,225.06 427.51,225.17 427.96,225.33 428.4,225.52 428.85,225.39 429.29,225.96 429.74,225.79 430.18,225.95 430.63,226.11 431.08,225.78 431.52,226.24 431.97,226.35 432.41,226 432.86,225.98 433.31,226.45 433.75,226.57 434.2,226.58 434.64,226.41 435.09,226.6 435.53,226.37 435.98,226.51 436.43,226.68 436.87,226.94 437.32,226.62 437.76,227.19 438.21,226.71 438.65,227.34 439.1,226.97 439.55,227.38 439.99,227.45 440.44,227.6 440.88,227.37 441.33,227.57 441.78,227.4 442.22,227.79 442.67,227.42 443.11,227.95 443.56,227.84 444,227.59 444.45,228.18 444.9,227.87 445.34,227.79 445.79,227.97 446.23,227.9 446.68,228.11 447.12,228.44 447.57,228.67 448.02,228.52 448.46,228.72 448.91,228.77 449.35,228.77 449.8,228.64 450.25,228.62 450.69,228.63 451.14,228.93 451.58,228.79 452.03,229.18 452.47,228.99 452.92,229.21 453.37,229.26 453.81,229.37 454.26,229.16 454.7,229.28 455.15,229.61 455.6,229.39 456.04,229.73 456.49,229.97 456.93,229.69 457.38,230.1 457.82,229.96 458.27,230.22 458.72,230.04 459.16,230.24 459.61,230.26 460.05,230.04 460.5,230.3 460.94,230.4 461.39,230.39 461.84,230.58 462.28,230.79 462.73,230.79 463.17,230.87 463.62,230.53 464.07,230.93 464.51,230.95 464.96,231.21 465.4,230.71 465.85,230.88 466.29,231.43 466.74,231.13 467.19,231.4 467.63,231.39 468.08,231.34 468.52,231.43 468.97,231.57 469.41,231.89 469.86,231.69 470.31,231.91 470.75,231.68 471.2,231.99 471.64,231.99 472.09,232.14 472.54,232.29 472.98,231.88 473.43,232.47 473.87,232.33 474.32,232.18 474.76,232.37 475.21,232.21 475.66,232.36 476.1,232.79 476.55,232.78 476.99,232.94 477.44,232.58 477.88,232.62 478.33,232.85 478.78,232.98 479.22,233.18 479.67,232.99 480.11,233.32 480.56,233.3 481.01,233.19 481.45,233.55" fill="none" stroke="#5d9cb6" stroke-width="1.15" stroke-linejoin="round" />
<line x1="435.1" y1="163.5" x2="448.5" y2="163.5" stroke="#f26b3a" stroke-width="1.4" />
<text x="450.2" y="165.5" font-size="5.6" font-weight="bold" text-anchor="start" fill="#222" >TiO<tspan font-size="4" dy="1">2</tspan></text>
<line x1="435.1" y1="172.13" x2="448.5" y2="172.13" stroke="#7dd3a0" stroke-width="1.4" />
<text x="450.2" y="174.13" font-size="5.6" font-weight="bold" text-anchor="start" fill="#222" >TiO<tspan font-size="4" dy="1">2</tspan><tspan dy="-1">/C</tspan><tspan font-size="4" dy="1">2</tspan><tspan dy="-1">N-1</tspan></text>
<line x1="435.1" y1="180.76" x2="448.5" y2="180.76" stroke="#5d9cb6" stroke-width="1.4" />
<text x="450.2" y="182.76" font-size="5.6" font-weight="bold" text-anchor="start" fill="#222" >TiO<tspan font-size="4" dy="1">2</tspan><tspan dy="-1">/C</tspan><tspan font-size="4" dy="1">2</tspan><tspan dy="-1">N-2</tspan></text>
<line x1="435.1" y1="189.39" x2="448.5" y2="189.39" stroke="#e48fc9" stroke-width="1.4" />
<text x="450.2" y="191.39" font-size="5.6" font-weight="bold" text-anchor="start" fill="#222" >TiO<tspan font-size="4" dy="1">2</tspan><tspan dy="-1">/C</tspan><tspan font-size="4" dy="1">2</tspan><tspan dy="-1">N-3</tspan></text>
<text x="511" y="165" font-size="17" font-weight="bold" text-anchor="start" fill="#111" >f</text>
<rect x="527.6" y="156.4" width="148.7" height="119.5" fill="none" stroke="#262626" stroke-width="1.35"/>
<line x1="527.6" y1="275.9" x2="527.6" y2="278.1" stroke="#1a1a1a" stroke-width="1" />
<line x1="552.38" y1="275.9" x2="552.38" y2="278.1" stroke="#1a1a1a" stroke-width="1" />
<line x1="577.17" y1="275.9" x2="577.17" y2="278.1" stroke="#1a1a1a" stroke-width="1" />
<line x1="601.95" y1="275.9" x2="601.95" y2="278.1" stroke="#1a1a1a" stroke-width="1" />
<line x1="626.73" y1="275.9" x2="626.73" y2="278.1" stroke="#1a1a1a" stroke-width="1" />
<line x1="651.52" y1="275.9" x2="651.52" y2="278.1" stroke="#1a1a1a" stroke-width="1" />
<line x1="676.3" y1="275.9" x2="676.3" y2="278.1" stroke="#1a1a1a" stroke-width="1" />
<line x1="539.99" y1="275.9" x2="539.99" y2="277.2" stroke="#1a1a1a" stroke-width="1" />
<line x1="564.77" y1="275.9" x2="564.77" y2="277.2" stroke="#1a1a1a" stroke-width="1" />
<line x1="589.56" y1="275.9" x2="589.56" y2="277.2" stroke="#1a1a1a" stroke-width="1" />
<line x1="614.34" y1="275.9" x2="614.34" y2="277.2" stroke="#1a1a1a" stroke-width="1" />
<line x1="639.12" y1="275.9" x2="639.12" y2="277.2" stroke="#1a1a1a" stroke-width="1" />
<line x1="663.91" y1="275.9" x2="663.91" y2="277.2" stroke="#1a1a1a" stroke-width="1" />
<text x="527.6" y="285.8" font-size="7.9" font-weight="bold" text-anchor="middle" fill="#111" >100</text>
<text x="552.38" y="285.8" font-size="7.9" font-weight="bold" text-anchor="middle" fill="#111" >150</text>
<text x="577.17" y="285.8" font-size="7.9" font-weight="bold" text-anchor="middle" fill="#111" >200</text>
<text x="601.95" y="285.8" font-size="7.9" font-weight="bold" text-anchor="middle" fill="#111" >250</text>
<text x="626.73" y="285.8" font-size="7.9" font-weight="bold" text-anchor="middle" fill="#111" >300</text>
<text x="651.52" y="285.8" font-size="7.9" font-weight="bold" text-anchor="middle" fill="#111" >350</text>
<text x="676.3" y="285.8" font-size="7.9" font-weight="bold" text-anchor="middle" fill="#111" >400</text>
<text x="602" y="295.8" font-size="10.2" font-weight="bold" text-anchor="middle" fill="#111">Temperature (<tspan font-size="7" dy="-4">o</tspan><tspan dy="4">C)</tspan></text>
<text transform="translate(523,215.5) rotate(-90)" font-size="10.15" font-weight="bold" text-anchor="middle" fill="#111">TCD Signal (arb. u.)</text>
<polyline points="527.6,200.19 528.4,200.79 529.2,200.33 530,200.08 530.8,200.39 531.6,200.1 532.4,199.74 533.2,198.87 534,198.9 534.8,198.05 535.6,196.6 536.4,195.7 537.2,196.11 538,194.67 538.8,193.51 539.6,192.78 540.4,192.57 541.2,191.06 542,190.39 542.8,189.8 543.6,188.39 544.4,187.65 545.2,186.82 546,185.42 546.8,183.99 547.6,182.75 548.4,181.15 549.2,180.35 550,179.22 550.8,178.06 551.6,176.93 552.4,176.28 553.2,174.71 554,174.41 554.8,173.82 555.6,171.78 556.4,171.16 557.2,171.17 558,169.26 558.8,169.35 559.6,168.3 560.4,166.99 561.2,167.01 562,165.67 562.8,166.17 563.6,165.06 564.4,165.47 565.2,165.18 566,164.09 566.8,164.37 567.6,164.09 568.4,164.9 569.2,164.28 570,164.46 570.8,164.78 571.6,165.98 572.4,165.57 573.2,166.02 574,166.53 574.8,167.03 575.6,167.23 576.4,168.22 577.2,167.82 578,168.33 578.8,169.17 579.6,168.84 580.4,169.2 581.2,170.46 582,170.31 582.8,171.48 583.6,171.89 584.4,171.83 585.2,172.24 586,172.42 586.8,173.77 587.6,173.64 588.4,173.88 589.2,173.98 590,174.3 590.8,175.32 591.6,174.63 592.4,175.33 593.2,175.58 594,175.59 594.8,175.7 595.6,175.68 596.4,175.52 597.2,176.35 598,176.49 598.8,176.12 599.6,175.77 600.4,176.55 601.2,175.68 602,175.6 602.8,176.06 603.6,176.19 604.4,175.71 605.2,174.96 606,175.77 606.8,174.51 607.6,174.44 608.4,174.91 609.2,174.36 610,174 610.8,172.88 611.6,173.52 612.4,172.68 613.2,171.9 614,172.49 614.8,172.29 615.6,170.86 616.4,170.97 617.2,171.14 618,170.11 618.8,169.75 619.6,170.05 620.4,169.41 621.2,169.9 622,169.61 622.8,169.55 623.6,169.38 624.4,168.83 625.2,169.52 626,169.53 626.8,169.58 627.6,169.85 628.4,169.71 629.2,169.74 630,170.75 630.8,170.22 631.6,170.01 632.4,171.16 633.2,170.7 634,171.01 634.8,170.72 635.6,170.61 636.4,170.95 637.2,171.67 638,171.1 638.8,171.98 639.6,171.35 640.4,172.16 641.2,171.38 642,171.77 642.8,171.46 643.6,171.53 644.4,172.01 645.2,171.85 646,172.05 646.8,171.65 647.6,171.71 648.4,171.66 649.2,172.26 650,171.18 650.8,171.46 651.6,171.85 652.4,171.37 653.2,170.83 654,171.56 654.8,170.33 655.6,170.2 656.4,169.88 657.2,170.22 658,170.56 658.8,169.71 659.6,169.56 660.4,170.03 661.2,169.03 662,168.84 662.8,169.49 663.6,168.69 664.4,169.1 665.2,168.53 666,168.97 666.8,169.16 667.6,168.58 668.4,168.26 669.2,168.57 670,168.56 670.8,167.68 671.6,167.8 672.4,167.86 673.2,167.91 674,167.53 674.8,167.89 675.6,167.3" fill="none" stroke="#f26b3a" stroke-width="1.15" stroke-linejoin="round" />
<polyline points="527.6,222.79 528.4,222.07 529.2,221.91 530,221.71 530.8,221.66 531.6,221.58 532.4,222.09 533.2,221.11 534,220.6 534.8,220.6 535.6,219.94 536.4,218.97 537.2,217.57 538,216.87 538.8,216.24 539.6,215.07 540.4,214.27 541.2,213.18 542,212.25 542.8,211.88 543.6,210.68 544.4,209.41 545.2,208.33 546,207.37 546.8,206.31 547.6,204.36 548.4,204.18 549.2,202.57 550,201.27 550.8,200.88 551.6,199.53 552.4,197.95 553.2,196.5 554,195.98 554.8,195 555.6,193.97 556.4,192.68 557.2,192.29 558,190.95 558.8,190.61 559.6,189.4 560.4,188.21 561.2,187.96 562,186.67 562.8,185.42 563.6,184.9 564.4,183.93 565.2,183.72 566,183.74 566.8,183.28 567.6,182.51 568.4,181.62 569.2,181.5 570,181.31 570.8,181.48 571.6,181.81 572.4,181.15 573.2,181.87 574,181.99 574.8,182.5 575.6,182.96 576.4,182.73 577.2,183.27 578,183.16 578.8,183.66 579.6,184.15 580.4,183.73 581.2,184.59 582,184.92 582.8,184.91 583.6,185.38 584.4,186.49 585.2,186.34 586,186.59 586.8,187.14 587.6,187.85 588.4,188.14 589.2,188.5 590,188.86 590.8,189.12 591.6,189.82 592.4,190.27 593.2,190 594,190.95 594.8,190.97 595.6,192.14 596.4,192.44 597.2,191.82 598,192.83 598.8,192.71 599.6,192.72 600.4,193.88 601.2,194.13 602,194.16 602.8,194.09 603.6,194.56 604.4,194.07 605.2,194.12 606,193.95 606.8,193.99 607.6,193.71 608.4,192.74 609.2,192.27 610,192.3 610.8,191.95 611.6,191.25 612.4,191.44 613.2,191 614,190.41 614.8,189.84 615.6,189.68 616.4,188.78 617.2,189.26 618,188.21 618.8,188.92 619.6,188.38 620.4,187.78 621.2,187.5 622,187.85 622.8,187.56 623.6,187.74 624.4,186.94 625.2,187.82 626,187.24 626.8,187.23 627.6,187.59 628.4,187.45 629.2,187.29 630,187.16 630.8,187.44 631.6,186.99 632.4,187.35 633.2,188.13 634,187.38 634.8,187.45 635.6,188.47 636.4,188 637.2,188.29 638,188.47 638.8,188.72 639.6,188.35 640.4,189 641.2,188.21 642,189.37 642.8,188.88 643.6,189.41 644.4,189.18 645.2,189.87 646,189.57 646.8,189.97 647.6,189.75 648.4,190.46 649.2,190.48 650,189.83 650.8,190.51 651.6,190.72 652.4,189.81 653.2,189.67 654,190.44 654.8,190.31 655.6,189.14 656.4,189.72 657.2,189.7 658,188.68 658.8,189.08 659.6,188.27 660.4,188.64 661.2,188.1 662,187.86 662.8,187.26 663.6,187.74 664.4,187.66 665.2,187.05 666,186.65 666.8,186.6 667.6,186.7 668.4,187.49 669.2,187.1 670,187.2 670.8,186.94 671.6,186.12 672.4,186.34 673.2,186.94 674,186.75 674.8,186.84 675.6,186.56" fill="none" stroke="#7dd3a0" stroke-width="1.15" stroke-linejoin="round" />
<polyline points="527.6,241.85 528.4,242.08 529.2,242.48 530,242.12 530.8,241.86 531.6,242.39 532.4,242.2 533.2,242.66 534,243.13 534.8,242.79 535.6,242.73 536.4,242.45 537.2,242.53 538,242.38 538.8,242.04 539.6,241.95 540.4,240.32 541.2,239.86 542,238.9 542.8,239.12 543.6,237.9 544.4,237.01 545.2,236.23 546,234.26 546.8,234.3 547.6,232.55 548.4,231.76 549.2,230.25 550,229.35 550.8,227.45 551.6,226.01 552.4,224.55 553.2,223.69 554,221.95 554.8,220.19 555.6,219.06 556.4,218 557.2,216.49 558,215.57 558.8,214.74 559.6,213.45 560.4,212.67 561.2,211.12 562,210.89 562.8,210.07 563.6,208.71 564.4,207.25 565.2,206.51 566,206.51 566.8,205.88 567.6,204.97 568.4,204 569.2,203.37 570,202.22 570.8,202.21 571.6,202.14 572.4,200.69 573.2,200.71 574,200.63 574.8,200.05 575.6,199.48 576.4,199.2 577.2,199.73 578,200.02 578.8,200.07 579.6,199.69 580.4,200.36 581.2,200.73 582,200.55 582.8,201.38 583.6,201.32 584.4,201.49 585.2,201.62 586,202.85 586.8,203.19 587.6,202.65 588.4,202.98 589.2,203.64 590,203.87 590.8,204.88 591.6,204.63 592.4,205.51 593.2,205.87 594,206.03 594.8,207.04 595.6,206.92 596.4,207.37 597.2,207.9 598,207.9 598.8,207.91 599.6,209.08 600.4,209.05 601.2,208.99 602,209.11 602.8,209.4 603.6,209.15 604.4,209.01 605.2,209.67 606,210.18 606.8,209.3 607.6,210.41 608.4,209.73 609.2,210.52 610,210.27 610.8,209.7 611.6,209.65 612.4,210.46 613.2,210.56 614,210.32 614.8,210.01 615.6,209.9 616.4,210.12 617.2,210.09 618,210.02 618.8,209.28 619.6,209.85 620.4,209.91 621.2,209.38 622,208.62 622.8,208.77 623.6,209.26 624.4,208.94 625.2,209.5 626,209.16 626.8,209.24 627.6,208.64 628.4,209.17 629.2,209.5 630,209.88 630.8,210.04 631.6,209.47 632.4,209.97 633.2,210.76 634,209.91 634.8,210.09 635.6,210.41 636.4,211.23 637.2,210.9 638,211.52 638.8,211.83 639.6,211.98 640.4,211.24 641.2,212.19 642,212.49 642.8,212.55 643.6,212.89 644.4,212.98 645.2,212.86 646,213.26 646.8,212.96 647.6,212.5 648.4,212.73 649.2,213.51 650,212.75 650.8,212.84 651.6,213.23 652.4,212.87 653.2,212.85 654,212.3 654.8,212.16 655.6,211.44 656.4,211.39 657.2,211.13 658,211.37 658.8,211.15 659.6,210.41 660.4,210.89 661.2,210.07 662,210.24 662.8,209.64 663.6,210 664.4,209.43 665.2,210.21 666,209.34 666.8,209.72 667.6,209.08 668.4,208.76 669.2,209.2 670,208.34 670.8,208.45 671.6,208.42 672.4,208.67 673.2,208.14 674,207.18 674.8,207.48 675.6,207.9" fill="none" stroke="#5d9cb6" stroke-width="1.15" stroke-linejoin="round" />
<polyline points="527.6,258.63 528.4,258.62 529.2,258.95 530,259.67 530.8,260.73 531.6,260.38 532.4,261.44 533.2,260.79 534,261.37 534.8,261.42 535.6,260.86 536.4,261.1 537.2,261.05 538,260.35 538.8,260.29 539.6,259.92 540.4,259.72 541.2,258.22 542,257.33 542.8,256.92 543.6,256.15 544.4,255.1 545.2,254.66 546,252.82 546.8,252.17 547.6,251.08 548.4,249.69 549.2,248.91 550,247.8 550.8,246.53 551.6,245.71 552.4,244.6 553.2,243.16 554,240.8 554.8,239.53 555.6,238.8 556.4,236.38 557.2,235.09 558,233.85 558.8,233.8 559.6,232.27 560.4,231.28 561.2,230.03 562,230.15 562.8,229.5 563.6,228.39 564.4,227.95 565.2,226.88 566,225.95 566.8,225.22 567.6,224.86 568.4,224.19 569.2,224.04 570,223.3 570.8,222.98 571.6,223.79 572.4,223.57 573.2,223.44 574,222.91 574.8,223.09 575.6,223.34 576.4,223.83 577.2,223.48 578,224.02 578.8,224.38 579.6,225.07 580.4,224.85 581.2,224.81 582,225.68 582.8,226.63 583.6,226.16 584.4,227.06 585.2,226.84 586,227.39 586.8,228.24 587.6,228.06 588.4,228.95 589.2,229.6 590,229.86 590.8,230.8 591.6,231.41 592.4,231.23 593.2,232.3 594,232.76 594.8,233.02 595.6,233.44 596.4,233.8 597.2,234.38 598,234.68 598.8,234.53 599.6,235.34 600.4,235.77 601.2,235.81 602,236.66 602.8,236.27 603.6,236.82 604.4,237.09 605.2,237.35 606,237.02 606.8,237.75 607.6,237.2 608.4,237.78 609.2,237.73 610,238.02 610.8,238.19 611.6,238.27 612.4,237.28 613.2,237.98 614,237.32 614.8,237.22 615.6,236.5 616.4,237.32 617.2,236.39 618,236.27 618.8,236.12 619.6,235.85 620.4,235.74 621.2,235.56 622,235.67 622.8,235.3 623.6,235.62 624.4,235.7 625.2,235.57 626,234.82 626.8,235.12 627.6,235.17 628.4,235.17 629.2,234.82 630,234.66 630.8,235.46 631.6,235.5 632.4,235.32 633.2,235.91 634,235.41 634.8,236.47 635.6,236.79 636.4,237.02 637.2,236.13 638,236.97 638.8,237.24 639.6,236.64 640.4,237.38 641.2,237.03 642,237.21 642.8,237.1 643.6,237.49 644.4,238.23 645.2,237.94 646,238.17 646.8,238.34 647.6,237.29 648.4,238.03 649.2,237.98 650,237.56 650.8,237.04 651.6,236.7 652.4,236.86 653.2,236.62 654,236.31 654.8,236.64 655.6,236.41 656.4,235.79 657.2,235.51 658,235.72 658.8,235.8 659.6,235.57 660.4,235.38 661.2,235.52 662,235.2 662.8,234.66 663.6,234.87 664.4,234.61 665.2,234.06 666,233.69 666.8,233.78 667.6,234.03 668.4,233.91 669.2,233.21 670,233.33 670.8,232.61 671.6,233.08 672.4,232.73 673.2,232.95 674,232.9 674.8,231.77 675.6,232.7" fill="none" stroke="#e48fc9" stroke-width="1.15" stroke-linejoin="round" />
<line x1="564.77" y1="157.5" x2="564.77" y2="172" stroke="#f26b3a" stroke-width="0.9" />
<line x1="567.65" y1="176" x2="567.65" y2="190" stroke="#7dd3a0" stroke-width="0.9" />
<line x1="574.69" y1="192.5" x2="574.69" y2="207" stroke="#5d9cb6" stroke-width="0.9" />
<line x1="572.01" y1="216.5" x2="572.01" y2="230.5" stroke="#e48fc9" stroke-width="0.9" />
<text x="560.5" y="165.3" font-size="8.1" font-weight="bold" text-anchor="end" fill="#222" >175.0</text>
<text x="570.5" y="184.3" font-size="8.1" font-weight="bold" text-anchor="start" fill="#222" >180.8</text>
<text x="575" y="215" font-size="8.1" font-weight="bold" text-anchor="start" fill="#222" >195.0</text>
<text x="568.2" y="240.5" font-size="8.1" font-weight="bold" text-anchor="start" fill="#222" >189.6</text>
<line x1="630.1" y1="243.5" x2="643.2" y2="243.5" stroke="#f26b3a" stroke-width="1.3" />
<text x="645.4" y="245.5" font-size="5.5" font-weight="bold" text-anchor="start" fill="#222" >TiO<tspan font-size="4" dy="1">2</tspan></text>
<line x1="630.1" y1="252.5" x2="643.2" y2="252.5" stroke="#7dd3a0" stroke-width="1.3" />
<text x="645.4" y="254.5" font-size="5.5" font-weight="bold" text-anchor="start" fill="#222" >TiO<tspan font-size="4" dy="1">2</tspan><tspan dy="-1">/C</tspan><tspan font-size="4" dy="1">2</tspan><tspan dy="-1">N-1</tspan></text>
<line x1="630.1" y1="261.5" x2="643.2" y2="261.5" stroke="#5d9cb6" stroke-width="1.3" />
<text x="645.4" y="263.5" font-size="5.5" font-weight="bold" text-anchor="start" fill="#222" >TiO<tspan font-size="4" dy="1">2</tspan><tspan dy="-1">/C</tspan><tspan font-size="4" dy="1">2</tspan><tspan dy="-1">N-2</tspan></text>
<line x1="630.1" y1="270.5" x2="643.2" y2="270.5" stroke="#e48fc9" stroke-width="1.3" />
<text x="645.4" y="272.5" font-size="5.5" font-weight="bold" text-anchor="start" fill="#222" >TiO<tspan font-size="4" dy="1">2</tspan><tspan dy="-1">/C</tspan><tspan font-size="4" dy="1">2</tspan><tspan dy="-1">N-3</tspan></text>
<text x="306" y="316.5" font-size="17" font-weight="bold" text-anchor="start" fill="#111" >g</text>
<rect x="333" y="309.4" width="148.6" height="119.6" fill="none" stroke="#262626" stroke-width="1.35"/>
<line x1="340.8" y1="429" x2="340.8" y2="431.2" stroke="#1a1a1a" stroke-width="1" />
<line x1="372.1" y1="429" x2="372.1" y2="431.2" stroke="#1a1a1a" stroke-width="1" />
<line x1="403.4" y1="429" x2="403.4" y2="431.2" stroke="#1a1a1a" stroke-width="1" />
<line x1="434.7" y1="429" x2="434.7" y2="431.2" stroke="#1a1a1a" stroke-width="1" />
<line x1="466" y1="429" x2="466" y2="431.2" stroke="#1a1a1a" stroke-width="1" />
<line x1="356.45" y1="429" x2="356.45" y2="430.3" stroke="#1a1a1a" stroke-width="1" />
<line x1="387.75" y1="429" x2="387.75" y2="430.3" stroke="#1a1a1a" stroke-width="1" />
<line x1="419.05" y1="429" x2="419.05" y2="430.3" stroke="#1a1a1a" stroke-width="1" />
<line x1="450.35" y1="429" x2="450.35" y2="430.3" stroke="#1a1a1a" stroke-width="1" />
<line x1="481.65" y1="429" x2="481.65" y2="430.3" stroke="#1a1a1a" stroke-width="1" />
<text x="340.8" y="438.7" font-size="7.7" font-weight="bold" text-anchor="middle" fill="#111" >3460</text>
<text x="372.1" y="438.7" font-size="7.7" font-weight="bold" text-anchor="middle" fill="#111" >3480</text>
<text x="403.4" y="438.7" font-size="7.7" font-weight="bold" text-anchor="middle" fill="#111" >3500</text>
<text x="434.7" y="438.7" font-size="7.7" font-weight="bold" text-anchor="middle" fill="#111" >3520</text>
<text x="466" y="438.7" font-size="7.7" font-weight="bold" text-anchor="middle" fill="#111" >3540</text>
<text x="407.5" y="449.4" font-size="10.2" font-weight="bold" text-anchor="middle" fill="#111" >Field (G)</text>
<text transform="translate(329,369.1) rotate(-90)" font-size="10.2" font-weight="bold" text-anchor="middle" fill="#111">Intensity (arb. u.)</text>
<polyline points="333.5,331.24 334,332.58 334.5,332.61 335,331.31 335.5,331.43 336,331.17 336.5,332.47 337,332.2 337.5,332.56 338,332.28 338.5,331.52 339,332.22 339.5,331.5 340,331.45 340.5,331.61 341,332.08 341.5,331.42 342,331.83 342.5,331.84 343,332.22 343.5,331.67 344,331.58 344.5,331.8 345,331.64 345.5,332.09 346,331.03 346.5,331.14 347,330.9 347.5,331.54 348,332.27 348.5,331.85 349,331.9 349.5,332.41 350,332.21 350.5,331.31 351,331.18 351.5,331.72 352,331.19 352.5,331.81 353,330.92 353.5,331.45 354,332.01 354.5,331.21 355,331.03 355.5,332.04 356,331.1 356.5,332.29 357,331.8 357.5,332.27 358,331.65 358.5,331.58 359,331.18 359.5,330.84 360,332.35 360.5,331.1 361,330.86 361.5,332.31 362,331.63 362.5,331.7 363,332.27 363.5,331.95 364,331.14 364.5,331.18 365,331.81 365.5,331.85 366,331.07 366.5,331.11 367,331.54 367.5,330.78 368,332.04 368.5,331.76 369,330.87 369.5,331.57 370,331.55 370.5,330.63 371,331.14 371.5,331.66 372,330.98 372.5,331.33 373,330.35 373.5,331.49 374,330.7 374.5,330.19 375,328.81 375.5,328.82 376,327.57 376.5,327.55 377,326.13 377.5,325.68 378,326.31 378.5,327 379,328.03 379.5,329 380,328.94 380.5,330.37 381,331.79 381.5,332.21 382,333.33 382.5,332.49 383,333.95 383.5,333.44 384,334.82 384.5,333.9 385,334.02 385.5,333.85 386,332.29 386.5,331.76 387,332.49 387.5,331.97 388,330.75 388.5,329.49 389,328.92 389.5,329.68 390,328.94 390.5,327.8 391,327.5 391.5,327.56 392,326.73 392.5,328.83 393,329.69 393.5,328.93 394,328.74 394.5,328.21 395,329.12 395.5,329.62 396,332.89 396.5,333.78 397,332.47 397.5,330.28 398,329 398.5,328.46 399,328.87 399.5,327.99 400,329.06 400.5,328.49 401,329.26 401.5,329.94 402,330.78 402.5,332.41 403,332.42 403.5,332.94 404,334.16 404.5,334.21 405,335.18 405.5,335.11 406,335.27 406.5,334.3 407,333.96 407.5,333.64 408,334 408.5,333.37 409,332.16 409.5,331.37 410,329.99 410.5,330.66 411,329.59 411.5,328.61 412,327.56 412.5,327.38 413,327.21 413.5,326.99 414,327.71 414.5,328.73 415,329.29 415.5,329.04 416,329.73 416.5,330.84 417,331.93 417.5,331.89 418,331.72 418.5,332.37 419,332.41 419.5,332.89 420,330.07 420.5,329.1 421,326.93 421.5,326.11 422,325.78 422.5,327.21 423,328.11 423.5,329.62 424,330.59 424.5,331.62 425,331.83 425.5,334.26 426,333.68 426.5,334.06 427,334.1 427.5,334.59 428,334.48 428.5,333.54 429,332.96 429.5,332.06 430,332.54 430.5,332.16 431,330.57 431.5,330.2 432,330.51 432.5,329.89 433,328.41 433.5,329.36 434,328.63 434.5,328.8 435,328.66 435.5,330.34 436,330.09 436.5,331.06 437,332.33 437.5,332.75 438,332.31 438.5,332.84 439,333.57 439.5,334.01 440,335.78 440.5,335.55 441,335.79 441.5,335.63 442,335.65 442.5,335.12 443,334.87 443.5,333.51 444,333.38 444.5,332.71 445,332.19 445.5,331.73 446,330.56 446.5,330.86 447,331.51 447.5,330.64 448,331 448.5,330.39 449,331.43 449.5,330.59 450,330.63 450.5,331.39 451,330.13 451.5,329.98 452,330.68 452.5,330.71 453,330.15 453.5,330.63 454,331.28 454.5,331.47 455,331.54 455.5,331.32 456,330.09 456.5,330.58 457,330.72 457.5,330 458,331.28 458.5,330.42 459,331.27 459.5,331.09 460,330.39 460.5,330.51 461,330.69 461.5,330.25 462,329.94 462.5,330.63 463,330.3 463.5,330.34 464,331.24 464.5,331.16 465,330.59 465.5,329.93 466,331.18 466.5,330.33 467,330.05 467.5,331.15 468,331.41 468.5,330.3 469,330.79 469.5,331.37 470,330.74 470.5,330.44 471,330.11 471.5,329.89 472,331.35 472.5,331.21 473,330.14 473.5,330.92 474,330.15 474.5,331.09 475,330.45 475.5,330.99 476,330.71 476.5,329.94 477,330.77 477.5,330.91 478,329.87 478.5,329.85 479,330.24 479.5,331.01 480,331.44 480.5,330.53 481,331.23" fill="none" stroke="#f26b3a" stroke-width="1.05" stroke-linejoin="round" />
<polyline points="333.5,352.15 334,351.41 334.5,351.7 335,352.37 335.5,351.75 336,351.79 336.5,352.15 337,351.17 337.5,351.7 338,351.79 338.5,351.87 339,352.08 339.5,351.36 340,351.7 340.5,351.67 341,351.06 341.5,352.22 342,352.51 342.5,351.83 343,351.57 343.5,351.49 344,351.63 344.5,351.49 345,351.32 345.5,352.46 346,351.47 346.5,351.2 347,351.96 347.5,350.84 348,351.43 348.5,351.78 349,352.21 349.5,351.33 350,350.9 350.5,352.46 351,350.83 351.5,351.51 352,351.67 352.5,352.47 353,351.4 353.5,351.2 354,351.27 354.5,351.42 355,351.02 355.5,352.3 356,351.64 356.5,352.01 357,351.23 357.5,351.89 358,352.3 358.5,351.14 359,352.37 359.5,351.22 360,351.95 360.5,352.33 361,351.51 361.5,352.31 362,351.39 362.5,351.46 363,352.28 363.5,351.73 364,350.79 364.5,350.95 365,351.6 365.5,351.27 366,350.78 366.5,352.07 367,351.23 367.5,352.21 368,351.29 368.5,350.93 369,351.29 369.5,351.92 370,351.98 370.5,351.29 371,350.63 371.5,350.95 372,350.34 372.5,350.35 373,349.51 373.5,349.25 374,350.3 374.5,349.24 375,347.21 375.5,346.32 376,343.64 376.5,343.12 377,340.48 377.5,339.38 378,340.08 378.5,342.33 379,345.04 379.5,346.14 380,347.21 380.5,348.85 381,351.86 381.5,352.45 382,353.6 382.5,355.7 383,356.04 383.5,356.99 384,358.02 384.5,356.78 385,356.6 385.5,356.97 386,355.96 386.5,355.01 387,352.65 387.5,353.2 388,351.39 388.5,349.57 389,349.89 389.5,347.34 390,347.72 390.5,345.03 391,343.79 391.5,344.29 392,345.39 392.5,346.72 393,347.82 393.5,345.68 394,346.37 394.5,345.97 395,348.11 395.5,350.16 396,354.56 396.5,355.89 397,355.44 397.5,351.16 398,348.01 398.5,346.66 399,346.55 399.5,345.63 400,346.45 400.5,347.71 401,348.32 401.5,349.44 402,351.34 402.5,353.32 403,354.66 403.5,355.02 404,356.93 404.5,358.1 405,358.34 405.5,357.93 406,357.58 406.5,358.69 407,357.73 407.5,356.22 408,356.02 408.5,354.74 409,353.79 409.5,352.12 410,351.44 410.5,349.74 411,348.59 411.5,347.33 412,346.95 412.5,346.05 413,344.35 413.5,344.69 414,346.12 414.5,347.99 415,348.32 415.5,348.75 416,351.21 416.5,351.55 417,351.85 417.5,353.92 418,354.32 418.5,355.4 419,355.62 419.5,354.79 420,351.64 420.5,347.02 421,346.29 421.5,344.95 422,345.1 422.5,345.04 423,347.12 423.5,348.22 424,351.87 424.5,353.21 425,355.98 425.5,358.36 426,359.45 426.5,360.24 427,359.73 427.5,358.57 428,359.56 428.5,357.54 429,357.37 429.5,355.48 430,354.37 430.5,353.22 431,351.91 431.5,350.99 432,349.41 432.5,347.45 433,346.94 433.5,345.13 434,345.97 434.5,345.35 435,346.68 435.5,348.08 436,348.73 436.5,350.74 437,351.68 437.5,352.02 438,353.3 438.5,354.83 439,355.43 439.5,356.62 440,356.91 440.5,357.91 441,358.55 441.5,359.16 442,357.97 442.5,358.13 443,356.02 443.5,354.9 444,353.44 444.5,353.67 445,351.4 445.5,351.32 446,351.33 446.5,351.54 447,351.35 447.5,350.33 448,350.77 448.5,351.31 449,350.3 449.5,350.24 450,351.41 450.5,349.98 451,350.09 451.5,350.25 452,351.35 452.5,350.52 453,350.66 453.5,350.86 454,351.47 454.5,350.03 455,350.3 455.5,350.65 456,351.06 456.5,350.19 457,350.7 457.5,350.92 458,350.06 458.5,350.51 459,350.05 459.5,351.49 460,349.95 460.5,350.2 461,350.97 461.5,350.31 462,350.89 462.5,350.49 463,351.59 463.5,350.87 464,350.5 464.5,350.2 465,350.71 465.5,351.2 466,351.1 466.5,351.08 467,350.76 467.5,351.46 468,350.55 468.5,350.8 469,351.49 469.5,351.2 470,350.66 470.5,351.2 471,351.16 471.5,350.34 472,350.52 472.5,351.12 473,350.47 473.5,350.42 474,350.73 474.5,349.95 475,350.26 475.5,351.49 476,350.23 476.5,351.17 477,349.81 477.5,350.32 478,350.67 478.5,350.32 479,351.39 479.5,351.41 480,350.28 480.5,350 481,351.33" fill="none" stroke="#7dd3a0" stroke-width="1.05" stroke-linejoin="round" />
<polyline points="333.5,389.72 334,389.26 334.5,388.51 335,388.42 335.5,389.49 336,389.47 336.5,389.1 337,388.87 337.5,388.77 338,388.9 338.5,388.96 339,389.26 339.5,388.93 340,388.79 340.5,388.59 341,389.28 341.5,389.7 342,388.48 342.5,389.41 343,389.19 343.5,388.52 344,388.35 344.5,389.45 345,388.34 345.5,388.28 346,388.21 346.5,389.36 347,388.65 347.5,388.03 348,388.46 348.5,388.83 349,388.74 349.5,388.2 350,389.31 350.5,389.05 351,388.36 351.5,388.41 352,388.3 352.5,387.91 353,388.84 353.5,388.28 354,388.89 354.5,389.16 355,388.31 355.5,388.24 356,388.35 356.5,388.52 357,387.82 357.5,388.35 358,388.21 358.5,387.87 359,389.01 359.5,388.78 360,388.43 360.5,387.75 361,388.78 361.5,388.21 362,389 362.5,388.61 363,387.94 363.5,388.75 364,388.48 364.5,388.08 365,388.77 365.5,388.01 366,387.7 366.5,387.52 367,388.42 367.5,387.86 368,387.66 368.5,387.36 369,388.41 369.5,387.49 370,388.25 370.5,388.05 371,387.63 371.5,386.26 372,386.96 372.5,385.95 373,385.71 373.5,385.15 374,383.3 374.5,382.19 375,381.42 375.5,378.36 376,375.66 376.5,372.71 377,369.78 377.5,367.17 378,370.18 378.5,372.3 379,375.64 379.5,377.76 380,379.76 380.5,383.33 381,386.58 381.5,390.78 382,394.4 382.5,397.1 383,399.17 383.5,399.76 384,400.89 384.5,399.49 385,398.19 385.5,397.25 386,394.81 386.5,392.32 387,389.42 387.5,388.21 388,384.35 388.5,381.76 389,378.75 389.5,376.29 390,373.87 390.5,371.25 391,366.86 391.5,366.7 392,368.14 392.5,372.18 393,375.32 393.5,373.85 394,371.52 394.5,372.34 395,375.84 395.5,381.53 396,392.02 396.5,398.23 397,393.81 397.5,385.64 398,377.61 398.5,373.43 399,371.44 399.5,370.87 400,372.9 400.5,374.91 401,377.7 401.5,381.98 402,385.2 402.5,387.75 403,391.23 403.5,393.18 404,395.7 404.5,398.47 405,400.21 405.5,399.86 406,400.15 406.5,399.47 407,396.99 407.5,396.07 408,393.13 408.5,391.5 409,389.12 409.5,386.31 410,383.24 410.5,379.22 411,377.34 411.5,374.39 412,371.31 412.5,368.35 413,366.77 413.5,368.23 414,371.09 414.5,374.7 415,376.38 415.5,380.26 416,382.08 416.5,385.91 417,388.15 417.5,390.65 418,393.09 418.5,393.95 419,394.73 419.5,392.62 420,382.77 420.5,372.91 421,368.73 421.5,366.67 422,366.59 422.5,367.68 423,370.59 423.5,374.98 424,381.05 424.5,385.57 425,390.66 425.5,393.52 426,395.89 426.5,397.79 427,398.52 427.5,396.64 428,395.53 428.5,393.5 429,390.94 429.5,389.65 430,387.2 430.5,383.66 431,380.4 431.5,378.78 432,375.46 432.5,373.24 433,370.2 433.5,367.12 434,366.61 434.5,367 435,370.76 435.5,371.9 436,374.65 436.5,376.58 437,379.49 437.5,382.75 438,384.42 438.5,386.76 439,388.92 439.5,391.09 440,393.72 440.5,394.63 441,396.84 441.5,396.91 442,396.03 442.5,395.28 443,392.77 443.5,388.79 444,386.36 444.5,384 445,381.19 445.5,381.18 446,379.28 446.5,379.81 447,379.91 447.5,379.24 448,379.24 448.5,379.1 449,378.62 449.5,378.06 450,378.4 450.5,378.19 451,378.89 451.5,378.92 452,379.03 452.5,377.98 453,378.85 453.5,378.86 454,377.44 454.5,378.28 455,377.54 455.5,377.48 456,378.02 456.5,378.4 457,377.51 457.5,377.7 458,377.92 458.5,377.98 459,377.26 459.5,377.3 460,377.01 460.5,377.46 461,378.48 461.5,377.16 462,378.03 462.5,377.82 463,378.12 463.5,377.99 464,376.76 464.5,377.15 465,377.91 465.5,377.57 466,377.87 466.5,376.51 467,377.76 467.5,377.01 468,377.6 468.5,377.23 469,376.82 469.5,377.05 470,376.21 470.5,377.63 471,377.49 471.5,377.09 472,377.05 472.5,377.15 473,376.63 473.5,376.28 474,376.89 474.5,377.38 475,377.16 475.5,377 476,375.95 476.5,376.14 477,376.05 477.5,376.47 478,376.97 478.5,376.48 479,376.38 479.5,376.09 480,375.64 480.5,375.75 481,376.85" fill="none" stroke="#5d9cb6" stroke-width="1.1" stroke-linejoin="round" />
<polyline points="333.5,417.99 334,417.55 334.5,417.6 335,416.81 335.5,416.46 336,416.46 336.5,416.44 337,416.75 337.5,418.06 338,417.37 338.5,416.76 339,416.53 339.5,416.4 340,416.39 340.5,416.59 341,416.93 341.5,416.61 342,416.73 342.5,417.4 343,416.55 343.5,416.56 344,417.63 344.5,416.79 345,417.38 345.5,416.78 346,417.48 346.5,416.3 347,416.74 347.5,417.75 348,416.77 348.5,417.35 349,416.62 349.5,416.43 350,416.97 350.5,417.02 351,416.29 351.5,417.13 352,416.94 352.5,416.83 353,417.5 353.5,417.71 354,416.89 354.5,416.71 355,417.5 355.5,417.47 356,417.04 356.5,417.21 357,416.74 357.5,417.39 358,417.13 358.5,417.6 359,416.65 359.5,416.25 360,417.6 360.5,417.12 361,417.48 361.5,417.38 362,417.41 362.5,416.71 363,417.56 363.5,417.13 364,416.77 364.5,416.36 365,416.23 365.5,416.45 366,416.6 366.5,416.61 367,417.1 367.5,417.67 368,416.99 368.5,417.11 369,415.95 369.5,417.07 370,416.72 370.5,417.03 371,416.19 371.5,416.53 372,416.14 372.5,416.42 373,415.6 373.5,416 374,415.67 374.5,414.53 375,413.69 375.5,413.01 376,411.53 376.5,410.96 377,409.19 377.5,407.47 378,408.71 378.5,409.4 379,412.15 379.5,412.75 380,412.8 380.5,414.12 381,416.99 381.5,418.43 382,419.54 382.5,420.33 383,421.06 383.5,421.86 384,422.98 384.5,422.19 385,420.71 385.5,420.49 386,419.42 386.5,419.84 387,418.91 387.5,418.05 388,416.14 388.5,414.89 389,413.4 389.5,412.69 390,411.8 390.5,410.83 391,409.37 391.5,409.83 392,410.9 392.5,411.5 393,413.92 393.5,412.23 394,411.87 394.5,413 395,412.65 395.5,414.73 396,419.75 396.5,420.71 397,419.16 397.5,417.18 398,414.94 398.5,412.68 399,412.82 399.5,411.56 400,413.3 400.5,413.33 401,414.27 401.5,414.73 402,415.98 402.5,417.72 403,418.4 403.5,420.26 404,421.77 404.5,421.27 405,422.42 405.5,422.51 406,422.46 406.5,422.29 407,421.37 407.5,421.3 408,419.31 408.5,419.34 409,418.21 409.5,416.62 410,415.65 410.5,415.84 411,414.33 411.5,413.11 412,412.17 412.5,411.77 413,410.7 413.5,410.64 414,412.88 414.5,413.65 415,414.45 415.5,415.25 416,416.13 416.5,416.48 417,418.43 417.5,418.8 418,418.61 418.5,420.16 419,419.72 419.5,418.36 420,416.8 420.5,412.26 421,411.26 421.5,409.97 422,410.63 422.5,411.37 423,413 423.5,414.79 424,416.41 424.5,417.91 425,419.03 425.5,421.36 426,420.99 426.5,421.69 427,422.27 427.5,421.52 428,421.45 428.5,420.04 429,419.42 429.5,418.21 430,418.04 430.5,416.73 431,416.72 431.5,414.79 432,413.73 432.5,413.68 433,411.9 433.5,412.1 434,411.03 434.5,410.71 435,412.65 435.5,414.22 436,414.21 436.5,415.81 437,417.03 437.5,418.95 438,420.25 438.5,419.78 439,421.41 439.5,423.21 440,423.42 440.5,424.22 441,424.96 441.5,424.06 442,423.74 442.5,424.42 443,422.21 443.5,420.78 444,419.33 444.5,418.52 445,417.74 445.5,415.9 446,416.49 446.5,415.21 447,416.04 447.5,416.41 448,415.85 448.5,415.68 449,416.51 449.5,416.23 450,416.6 450.5,415.94 451,415.51 451.5,416.14 452,415.79 452.5,414.96 453,415.18 453.5,416.6 454,416.07 454.5,415.04 455,416.26 455.5,416.27 456,415.05 456.5,416.65 457,415.26 457.5,415.82 458,416.16 458.5,415.77 459,415.53 459.5,415.74 460,416 460.5,416.54 461,416.41 461.5,416.59 462,416.27 462.5,415.71 463,415.49 463.5,416.43 464,416.44 464.5,415.38 465,416.2 465.5,415.45 466,414.95 466.5,415.65 467,416.37 467.5,415.74 468,416.21 468.5,416.25 469,416.17 469.5,415.32 470,416.35 470.5,414.94 471,415.65 471.5,414.93 472,415.43 472.5,416.28 473,416.15 473.5,416.45 474,415.71 474.5,415.64 475,415.03 475.5,415.56 476,416.28 476.5,415.31 477,416.17 477.5,415.23 478,416.07 478.5,415.03 479,416.34 479.5,414.89 480,414.82 480.5,415.65 481,416" fill="none" stroke="#e48fc9" stroke-width="1.05" stroke-linejoin="round" />
<text x="336.4" y="319.8" font-size="6.4" font-weight="bold" text-anchor="start" fill="#222" >DMPO-O<tspan font-size="4.3" dy="1.3">2</tspan><tspan font-size="4.3" dy="-3.8">•−</tspan></text>
<text x="470.5" y="325.8" font-size="5.8" font-weight="bold" text-anchor="end" fill="#222" >UV/TiO<tspan font-size="4" dy="1">2</tspan></text>
<text x="479.3" y="346.1" font-size="5.8" font-weight="bold" text-anchor="end" fill="#222" >UV/TiO<tspan font-size="4" dy="1">2</tspan><tspan dy="-1">/C</tspan><tspan font-size="4" dy="1">2</tspan><tspan dy="-1">N-1</tspan></text>
<text x="479.3" y="372.4" font-size="5.8" font-weight="bold" text-anchor="end" fill="#222" >UV/TiO<tspan font-size="4" dy="1">2</tspan><tspan dy="-1">/C</tspan><tspan font-size="4" dy="1">2</tspan><tspan dy="-1">N-2</tspan></text>
<text x="479.3" y="408.1" font-size="5.8" font-weight="bold" text-anchor="end" fill="#222" >UV/TiO<tspan font-size="4" dy="1">2</tspan><tspan dy="-1">/C</tspan><tspan font-size="4" dy="1">2</tspan><tspan dy="-1">N-3</tspan></text>
<text x="511" y="312" font-size="17" font-weight="bold" text-anchor="start" fill="#111" >h</text>
<rect x="527.4" y="308.8" width="148.9" height="119.6" fill="none" stroke="#262626" stroke-width="1.35"/>
<line x1="538.04" y1="428.4" x2="538.04" y2="430.6" stroke="#1a1a1a" stroke-width="1" />
<line x1="559.31" y1="428.4" x2="559.31" y2="430.6" stroke="#1a1a1a" stroke-width="1" />
<line x1="580.58" y1="428.4" x2="580.58" y2="430.6" stroke="#1a1a1a" stroke-width="1" />
<line x1="601.85" y1="428.4" x2="601.85" y2="430.6" stroke="#1a1a1a" stroke-width="1" />
<line x1="623.12" y1="428.4" x2="623.12" y2="430.6" stroke="#1a1a1a" stroke-width="1" />
<line x1="644.39" y1="428.4" x2="644.39" y2="430.6" stroke="#1a1a1a" stroke-width="1" />
<line x1="665.66" y1="428.4" x2="665.66" y2="430.6" stroke="#1a1a1a" stroke-width="1" />
<line x1="525.2" y1="416.44" x2="527.4" y2="416.44" stroke="#1a1a1a" stroke-width="1" />
<line x1="525.2" y1="392.52" x2="527.4" y2="392.52" stroke="#1a1a1a" stroke-width="1" />
<line x1="525.2" y1="368.6" x2="527.4" y2="368.6" stroke="#1a1a1a" stroke-width="1" />
<line x1="525.2" y1="344.68" x2="527.4" y2="344.68" stroke="#1a1a1a" stroke-width="1" />
<line x1="525.2" y1="320.76" x2="527.4" y2="320.76" stroke="#1a1a1a" stroke-width="1" />
<line x1="526.1" y1="404.48" x2="527.4" y2="404.48" stroke="#1a1a1a" stroke-width="1" />
<line x1="526.1" y1="380.56" x2="527.4" y2="380.56" stroke="#1a1a1a" stroke-width="1" />
<line x1="526.1" y1="356.64" x2="527.4" y2="356.64" stroke="#1a1a1a" stroke-width="1" />
<line x1="526.1" y1="332.72" x2="527.4" y2="332.72" stroke="#1a1a1a" stroke-width="1" />
<text x="538.04" y="438.5" font-size="7.7" font-weight="bold" text-anchor="middle" fill="#111" >3</text>
<text x="559.31" y="438.5" font-size="7.7" font-weight="bold" text-anchor="middle" fill="#111" >4</text>
<text x="580.58" y="438.5" font-size="7.7" font-weight="bold" text-anchor="middle" fill="#111" >5</text>
<text x="601.85" y="438.5" font-size="7.7" font-weight="bold" text-anchor="middle" fill="#111" >6</text>
<text x="623.12" y="438.5" font-size="7.7" font-weight="bold" text-anchor="middle" fill="#111" >7</text>
<text x="644.39" y="438.5" font-size="7.7" font-weight="bold" text-anchor="middle" fill="#111" >8</text>
<text x="665.66" y="438.5" font-size="7.7" font-weight="bold" text-anchor="middle" fill="#111" >9</text>
<text x="523.2" y="419.14" font-size="7.9" font-weight="bold" text-anchor="end" fill="#111" >-40</text>
<text x="523.2" y="395.22" font-size="7.9" font-weight="bold" text-anchor="end" fill="#111" >-20</text>
<text x="523.2" y="371.3" font-size="7.9" font-weight="bold" text-anchor="end" fill="#111" >0</text>
<text x="523.2" y="347.38" font-size="7.9" font-weight="bold" text-anchor="end" fill="#111" >20</text>
<text x="523.2" y="323.46" font-size="7.9" font-weight="bold" text-anchor="end" fill="#111" >40</text>
<text x="602" y="449.4" font-size="10.2" font-weight="bold" text-anchor="middle" fill="#111" >pH</text>
<text transform="translate(509,368.2) rotate(-90)" font-size="10.1" font-weight="bold" text-anchor="middle" fill="#111">Zeta potential (mV)</text>
<line x1="527.4" y1="368.6" x2="676.3" y2="368.6" stroke="#666" stroke-width="0.9" stroke-dasharray="3.5 2.5"/>
<polyline points="538.04,345.28 580.58,389.53 623.12,402.69 665.66,411.66" fill="none" stroke="#79a8b9" stroke-width="1.2" stroke-linejoin="round" />
<circle cx="538.04" cy="345.28" r="2.6" fill="#79a8b9"/>
<circle cx="580.58" cy="389.53" r="2.6" fill="#79a8b9"/>
<circle cx="623.12" cy="402.69" r="2.6" fill="#79a8b9"/>
<circle cx="665.66" cy="411.66" r="2.6" fill="#79a8b9"/>
<polyline points="538.04,352.45 580.58,390.73 623.12,406.27 665.66,415.84" fill="none" stroke="#e29bc9" stroke-width="1.2" stroke-linejoin="round" />
<circle cx="538.04" cy="352.45" r="2.6" fill="#e29bc9"/>
<circle cx="580.58" cy="390.73" r="2.6" fill="#e29bc9"/>
<circle cx="623.12" cy="406.27" r="2.6" fill="#e29bc9"/>
<circle cx="665.66" cy="415.84" r="2.6" fill="#e29bc9"/>
<polyline points="538.04,339.3 580.58,381.52 623.12,393.48 665.66,412.25" fill="none" stroke="#8fd9ad" stroke-width="1.2" stroke-linejoin="round" />
<circle cx="538.04" cy="339.3" r="2.6" fill="#8fd9ad"/>
<circle cx="580.58" cy="381.52" r="2.6" fill="#8fd9ad"/>
<circle cx="623.12" cy="393.48" r="2.6" fill="#8fd9ad"/>
<circle cx="665.66" cy="412.25" r="2.6" fill="#8fd9ad"/>
<polyline points="538.04,328.53 580.58,349.46 623.12,375.18 665.66,390.73" fill="none" stroke="#ee6a3c" stroke-width="1.2" stroke-linejoin="round" />
<circle cx="538.04" cy="328.53" r="2.6" fill="#ee6a3c"/>
<circle cx="580.58" cy="349.46" r="2.6" fill="#ee6a3c"/>
<circle cx="623.12" cy="375.18" r="2.6" fill="#ee6a3c"/>
<circle cx="665.66" cy="390.73" r="2.6" fill="#ee6a3c"/>
<line x1="630.4" y1="315.5" x2="643.7" y2="315.5" stroke="#ee6a3c" stroke-width="1.2" />
<circle cx="637" cy="315.5" r="2.4" fill="#ee6a3c"/>
<text x="645.3" y="317.5" font-size="5.6" font-weight="bold" text-anchor="start" fill="#222" >TiO<tspan font-size="4" dy="1">2</tspan></text>
<line x1="630.4" y1="324.4" x2="643.7" y2="324.4" stroke="#8fd9ad" stroke-width="1.2" />
<circle cx="637" cy="324.4" r="2.4" fill="#8fd9ad"/>
<text x="645.3" y="326.4" font-size="5.6" font-weight="bold" text-anchor="start" fill="#222" >TiO<tspan font-size="4" dy="1">2</tspan><tspan dy="-1">/C</tspan><tspan font-size="4" dy="1">2</tspan><tspan dy="-1">N-1</tspan></text>
<line x1="630.4" y1="333.3" x2="643.7" y2="333.3" stroke="#79a8b9" stroke-width="1.2" />
<circle cx="637" cy="333.3" r="2.4" fill="#79a8b9"/>
<text x="645.3" y="335.3" font-size="5.6" font-weight="bold" text-anchor="start" fill="#222" >TiO<tspan font-size="4" dy="1">2</tspan><tspan dy="-1">/C</tspan><tspan font-size="4" dy="1">2</tspan><tspan dy="-1">N-2</tspan></text>
<line x1="630.4" y1="342.2" x2="643.7" y2="342.2" stroke="#e29bc9" stroke-width="1.2" />
<circle cx="637" cy="342.2" r="2.4" fill="#e29bc9"/>
<text x="645.3" y="344.2" font-size="5.6" font-weight="bold" text-anchor="start" fill="#222" >TiO<tspan font-size="4" dy="1">2</tspan><tspan dy="-1">/C</tspan><tspan font-size="4" dy="1">2</tspan><tspan dy="-1">N-3</tspan></text>
<text x="10.5" y="477.5" font-size="15" font-weight="bold" text-anchor="start" fill="#111" >i</text>
<rect x="49.9" y="528.67" width="10.0" height="71.93" fill="#ee9372"/>
<rect x="64.4" y="498.1" width="10.0" height="102.5" fill="#ade6c7"/>
<rect x="78.9" y="526.18" width="10.0" height="74.42" fill="#a8cad5"/>
<rect x="107.6" y="544.45" width="10.0" height="56.15" fill="#ee9372"/>
<rect x="122.1" y="498.1" width="10.0" height="102.5" fill="#ade6c7"/>
<rect x="136.6" y="527.34" width="10.0" height="73.26" fill="#a8cad5"/>
<rect x="165.3" y="542.62" width="10.0" height="57.98" fill="#ee9372"/>
<rect x="179.8" y="498.1" width="10.0" height="102.5" fill="#ade6c7"/>
<rect x="194.3" y="525.51" width="10.0" height="75.09" fill="#a8cad5"/>
<rect x="223" y="553.42" width="10.0" height="47.18" fill="#ee9372"/>
<rect x="237.5" y="501.76" width="10.0" height="98.84" fill="#ade6c7"/>
<rect x="252" y="528.83" width="10.0" height="71.77" fill="#a8cad5"/>
<rect x="280.7" y="539.63" width="10.0" height="60.97" fill="#ee9372"/>
<rect x="295.2" y="498.1" width="10.0" height="102.5" fill="#ade6c7"/>
<rect x="309.7" y="526.84" width="10.0" height="73.76" fill="#a8cad5"/>
<rect x="338.4" y="520.03" width="10.0" height="80.57" fill="#ee9372"/>
<rect x="352.9" y="493.95" width="10.0" height="106.65" fill="#ade6c7"/>
<rect x="367.4" y="517.21" width="10.0" height="83.39" fill="#a8cad5"/>
<rect x="396.1" y="530.16" width="10.0" height="70.44" fill="#ee9372"/>
<rect x="410.6" y="498.43" width="10.0" height="102.17" fill="#ade6c7"/>
<rect x="425.1" y="532.32" width="10.0" height="68.28" fill="#a8cad5"/>
<rect x="453.8" y="544.12" width="10.0" height="56.48" fill="#ee9372"/>
<rect x="468.3" y="508.23" width="10.0" height="92.37" fill="#ade6c7"/>
<rect x="482.8" y="532.32" width="10.0" height="68.28" fill="#a8cad5"/>
<rect x="511.5" y="537.31" width="10.0" height="63.29" fill="#ee9372"/>
<rect x="526" y="500.09" width="10.0" height="100.51" fill="#ade6c7"/>
<rect x="540.5" y="526.18" width="10.0" height="74.42" fill="#a8cad5"/>
<rect x="569.2" y="543.29" width="10.0" height="57.31" fill="#ee9372"/>
<rect x="583.7" y="503.08" width="10.0" height="97.52" fill="#ade6c7"/>
<rect x="598.2" y="529.5" width="10.0" height="71.1" fill="#a8cad5"/>
<rect x="626.9" y="550.6" width="10.0" height="50" fill="#ee9372"/>
<rect x="641.4" y="506.41" width="10.0" height="94.19" fill="#ade6c7"/>
<rect x="655.9" y="535.48" width="10.0" height="65.12" fill="#a8cad5"/>
<line x1="59.9" y1="528.67" x2="636.9" y2="528.67" stroke="#f07848" stroke-width="1" stroke-dasharray="4 3"/>
<line x1="74.4" y1="498.43" x2="651.4" y2="498.43" stroke="#9adcc0" stroke-width="1" stroke-dasharray="4 3"/>
<line x1="88.9" y1="526.18" x2="665.9" y2="526.18" stroke="#9cc8d8" stroke-width="1" stroke-dasharray="4 3"/>
<line x1="54.9" y1="522.7" x2="54.9" y2="533.4" stroke="#707070" stroke-width="0.75" />
<line x1="53.1" y1="522.7" x2="56.7" y2="522.7" stroke="#707070" stroke-width="0.75" />
<line x1="53.1" y1="533.4" x2="56.7" y2="533.4" stroke="#707070" stroke-width="0.75" />
<circle cx="58.6" cy="522.7" r="1.9" fill="#f2f2f2" stroke="#707070" stroke-width="0.65"/>
<circle cx="51.2" cy="533.9" r="1.9" fill="#f2f2f2" stroke="#707070" stroke-width="0.65"/>
<line x1="69.4" y1="491.7" x2="69.4" y2="504.1" stroke="#707070" stroke-width="0.75" />
<line x1="67.6" y1="491.7" x2="71.2" y2="491.7" stroke="#707070" stroke-width="0.75" />
<line x1="67.6" y1="504.1" x2="71.2" y2="504.1" stroke="#707070" stroke-width="0.75" />
<circle cx="72.8" cy="491.7" r="1.9" fill="#f2f2f2" stroke="#707070" stroke-width="0.65"/>
<circle cx="65.3" cy="504.6" r="1.9" fill="#f2f2f2" stroke="#707070" stroke-width="0.65"/>
<line x1="83.9" y1="522.7" x2="83.9" y2="528.9" stroke="#707070" stroke-width="0.75" />
<line x1="82.1" y1="522.7" x2="85.7" y2="522.7" stroke="#707070" stroke-width="0.75" />
<line x1="82.1" y1="528.9" x2="85.7" y2="528.9" stroke="#707070" stroke-width="0.75" />
<circle cx="79.7" cy="522.4" r="1.9" fill="#f2f2f2" stroke="#707070" stroke-width="0.65"/>
<circle cx="87.9" cy="529.4" r="1.9" fill="#f2f2f2" stroke="#707070" stroke-width="0.65"/>
<text x="69.4" y="613.8" font-size="12.2" font-weight="bold" text-anchor="middle" fill="#111" >Control</text>
<line x1="112.6" y1="539.1" x2="112.6" y2="548.8" stroke="#707070" stroke-width="0.75" />
<line x1="110.8" y1="539.1" x2="114.4" y2="539.1" stroke="#707070" stroke-width="0.75" />
<line x1="110.8" y1="548.8" x2="114.4" y2="548.8" stroke="#707070" stroke-width="0.75" />
<circle cx="107.5" cy="539" r="1.9" fill="#f2f2f2" stroke="#707070" stroke-width="0.65"/>
<circle cx="116.9" cy="548.8" r="1.9" fill="#f2f2f2" stroke="#707070" stroke-width="0.65"/>
<line x1="127.1" y1="487" x2="127.1" y2="507.3" stroke="#707070" stroke-width="0.75" />
<line x1="125.3" y1="487" x2="128.9" y2="487" stroke="#707070" stroke-width="0.75" />
<line x1="125.3" y1="507.3" x2="128.9" y2="507.3" stroke="#707070" stroke-width="0.75" />
<circle cx="131.3" cy="487" r="1.9" fill="#f2f2f2" stroke="#707070" stroke-width="0.65"/>
<circle cx="123.1" cy="507.8" r="1.9" fill="#f2f2f2" stroke="#707070" stroke-width="0.65"/>
<line x1="141.6" y1="525.4" x2="141.6" y2="527.2" stroke="#707070" stroke-width="0.75" />
<line x1="139.8" y1="525.4" x2="143.4" y2="525.4" stroke="#707070" stroke-width="0.75" />
<line x1="139.8" y1="527.2" x2="143.4" y2="527.2" stroke="#707070" stroke-width="0.75" />
<circle cx="136.8" cy="525.4" r="1.9" fill="#f2f2f2" stroke="#707070" stroke-width="0.65"/>
<circle cx="145.5" cy="527.7" r="1.9" fill="#f2f2f2" stroke="#707070" stroke-width="0.65"/>
<text x="127.1" y="613.8" font-size="12.2" font-weight="bold" text-anchor="middle" fill="#111" >NOM</text>
<line x1="170.3" y1="536.6" x2="170.3" y2="547.8" stroke="#707070" stroke-width="0.75" />
<line x1="168.5" y1="536.6" x2="172.1" y2="536.6" stroke="#707070" stroke-width="0.75" />
<line x1="168.5" y1="547.8" x2="172.1" y2="547.8" stroke="#707070" stroke-width="0.75" />
<circle cx="174" cy="536.6" r="1.9" fill="#f2f2f2" stroke="#707070" stroke-width="0.65"/>
<circle cx="166.1" cy="548.5" r="1.9" fill="#f2f2f2" stroke="#707070" stroke-width="0.65"/>
<line x1="184.8" y1="487" x2="184.8" y2="511" stroke="#707070" stroke-width="0.75" />
<line x1="183" y1="487" x2="186.6" y2="487" stroke="#707070" stroke-width="0.75" />
<line x1="183" y1="511" x2="186.6" y2="511" stroke="#707070" stroke-width="0.75" />
<circle cx="187.7" cy="487.2" r="1.9" fill="#f2f2f2" stroke="#707070" stroke-width="0.65"/>
<circle cx="180.7" cy="511.5" r="1.9" fill="#f2f2f2" stroke="#707070" stroke-width="0.65"/>
<line x1="199.3" y1="521.4" x2="199.3" y2="527.2" stroke="#707070" stroke-width="0.75" />
<line x1="197.5" y1="521.4" x2="201.1" y2="521.4" stroke="#707070" stroke-width="0.75" />
<line x1="197.5" y1="527.2" x2="201.1" y2="527.2" stroke="#707070" stroke-width="0.75" />
<circle cx="195.1" cy="521.6" r="1.9" fill="#f2f2f2" stroke="#707070" stroke-width="0.65"/>
<circle cx="203.1" cy="527.7" r="1.9" fill="#f2f2f2" stroke="#707070" stroke-width="0.65"/>
<text x="184.8" y="613.8" font-size="12.2" font-weight="bold" text-anchor="middle" fill="#111" >Cl<tspan font-size="8" dy="-4">−</tspan></text>
<line x1="228" y1="548.3" x2="228" y2="557.7" stroke="#707070" stroke-width="0.75" />
<line x1="226.2" y1="548.3" x2="229.8" y2="548.3" stroke="#707070" stroke-width="0.75" />
<line x1="226.2" y1="557.7" x2="229.8" y2="557.7" stroke="#707070" stroke-width="0.75" />
<circle cx="223.7" cy="548.3" r="1.9" fill="#f2f2f2" stroke="#707070" stroke-width="0.65"/>
<circle cx="232.3" cy="557.7" r="1.9" fill="#f2f2f2" stroke="#707070" stroke-width="0.65"/>
<line x1="242.5" y1="501.8" x2="242.5" y2="501.8" stroke="#707070" stroke-width="0.75" />
<line x1="240.7" y1="501.8" x2="244.3" y2="501.8" stroke="#707070" stroke-width="0.75" />
<line x1="240.7" y1="501.8" x2="244.3" y2="501.8" stroke="#707070" stroke-width="0.75" />
<circle cx="238.5" cy="501.8" r="1.9" fill="#f2f2f2" stroke="#707070" stroke-width="0.65"/>
<circle cx="246.7" cy="501.3" r="1.9" fill="#f2f2f2" stroke="#707070" stroke-width="0.65"/>
<line x1="257" y1="523.9" x2="257" y2="532.1" stroke="#707070" stroke-width="0.75" />
<line x1="255.2" y1="523.9" x2="258.8" y2="523.9" stroke="#707070" stroke-width="0.75" />
<line x1="255.2" y1="532.1" x2="258.8" y2="532.1" stroke="#707070" stroke-width="0.75" />
<circle cx="260.9" cy="524" r="1.9" fill="#f2f2f2" stroke="#707070" stroke-width="0.65"/>
<circle cx="252.9" cy="532.1" r="1.9" fill="#f2f2f2" stroke="#707070" stroke-width="0.65"/>
<text x="242.5" y="613.8" font-size="12.2" font-weight="bold" text-anchor="middle" fill="#111" >HCO<tspan font-size="8" dy="3">3</tspan><tspan font-size="8" dy="-7">−</tspan></text>
<line x1="285.7" y1="537.1" x2="285.7" y2="540.8" stroke="#707070" stroke-width="0.75" />
<line x1="283.9" y1="537.1" x2="287.5" y2="537.1" stroke="#707070" stroke-width="0.75" />
<line x1="283.9" y1="540.8" x2="287.5" y2="540.8" stroke="#707070" stroke-width="0.75" />
<circle cx="289.4" cy="537.1" r="1.9" fill="#f2f2f2" stroke="#707070" stroke-width="0.65"/>
<circle cx="281.2" cy="541.3" r="1.9" fill="#f2f2f2" stroke="#707070" stroke-width="0.65"/>
<line x1="300.2" y1="486.7" x2="300.2" y2="507.8" stroke="#707070" stroke-width="0.75" />
<line x1="298.4" y1="486.7" x2="302" y2="486.7" stroke="#707070" stroke-width="0.75" />
<line x1="298.4" y1="507.8" x2="302" y2="507.8" stroke="#707070" stroke-width="0.75" />
<circle cx="296.4" cy="486.7" r="1.9" fill="#f2f2f2" stroke="#707070" stroke-width="0.65"/>
<circle cx="304.3" cy="508" r="1.9" fill="#f2f2f2" stroke="#707070" stroke-width="0.65"/>
<line x1="314.7" y1="525.4" x2="314.7" y2="527.2" stroke="#707070" stroke-width="0.75" />
<line x1="312.9" y1="525.4" x2="316.5" y2="525.4" stroke="#707070" stroke-width="0.75" />
<line x1="312.9" y1="527.2" x2="316.5" y2="527.2" stroke="#707070" stroke-width="0.75" />
<circle cx="310.5" cy="524.9" r="1.9" fill="#f2f2f2" stroke="#707070" stroke-width="0.65"/>
<circle cx="318.5" cy="527.7" r="1.9" fill="#f2f2f2" stroke="#707070" stroke-width="0.65"/>
<text x="300.2" y="613.8" font-size="12.2" font-weight="bold" text-anchor="middle" fill="#111" >NO<tspan font-size="8" dy="3">3</tspan><tspan font-size="8" dy="-7">−</tspan></text>
<line x1="343.4" y1="517.7" x2="343.4" y2="520.2" stroke="#707070" stroke-width="0.75" />
<line x1="341.6" y1="517.7" x2="345.2" y2="517.7" stroke="#707070" stroke-width="0.75" />
<line x1="341.6" y1="520.2" x2="345.2" y2="520.2" stroke="#707070" stroke-width="0.75" />
<circle cx="339.1" cy="517.7" r="1.9" fill="#f2f2f2" stroke="#707070" stroke-width="0.65"/>
<circle cx="347.3" cy="521" r="1.9" fill="#f2f2f2" stroke="#707070" stroke-width="0.65"/>
<line x1="357.9" y1="489.4" x2="357.9" y2="497.4" stroke="#707070" stroke-width="0.75" />
<line x1="356.1" y1="489.4" x2="359.7" y2="489.4" stroke="#707070" stroke-width="0.75" />
<line x1="356.1" y1="497.4" x2="359.7" y2="497.4" stroke="#707070" stroke-width="0.75" />
<circle cx="361.9" cy="489.4" r="1.9" fill="#f2f2f2" stroke="#707070" stroke-width="0.65"/>
<circle cx="354" cy="497.9" r="1.9" fill="#f2f2f2" stroke="#707070" stroke-width="0.65"/>
<line x1="372.4" y1="516.5" x2="372.4" y2="519.2" stroke="#707070" stroke-width="0.75" />
<line x1="370.6" y1="516.5" x2="374.2" y2="516.5" stroke="#707070" stroke-width="0.75" />
<line x1="370.6" y1="519.2" x2="374.2" y2="519.2" stroke="#707070" stroke-width="0.75" />
<circle cx="368.4" cy="516.5" r="1.9" fill="#f2f2f2" stroke="#707070" stroke-width="0.65"/>
<circle cx="375.8" cy="519.6" r="1.9" fill="#f2f2f2" stroke="#707070" stroke-width="0.65"/>
<text x="357.9" y="613.8" font-size="12.2" font-weight="bold" text-anchor="middle" fill="#111" >pH 6.0</text>
<line x1="401.1" y1="522.9" x2="401.1" y2="535.8" stroke="#707070" stroke-width="0.75" />
<line x1="399.3" y1="522.9" x2="402.9" y2="522.9" stroke="#707070" stroke-width="0.75" />
<line x1="399.3" y1="535.8" x2="402.9" y2="535.8" stroke="#707070" stroke-width="0.75" />
<circle cx="396.9" cy="522.9" r="1.9" fill="#f2f2f2" stroke="#707070" stroke-width="0.65"/>
<circle cx="405.3" cy="535.8" r="1.9" fill="#f2f2f2" stroke="#707070" stroke-width="0.65"/>
<line x1="415.6" y1="490.4" x2="415.6" y2="506.1" stroke="#707070" stroke-width="0.75" />
<line x1="413.8" y1="490.4" x2="417.4" y2="490.4" stroke="#707070" stroke-width="0.75" />
<line x1="413.8" y1="506.1" x2="417.4" y2="506.1" stroke="#707070" stroke-width="0.75" />
<circle cx="411.8" cy="490.4" r="1.9" fill="#f2f2f2" stroke="#707070" stroke-width="0.65"/>
<circle cx="419.2" cy="506.3" r="1.9" fill="#f2f2f2" stroke="#707070" stroke-width="0.65"/>
<line x1="430.1" y1="527.2" x2="430.1" y2="535.1" stroke="#707070" stroke-width="0.75" />
<line x1="428.3" y1="527.2" x2="431.9" y2="527.2" stroke="#707070" stroke-width="0.75" />
<line x1="428.3" y1="535.1" x2="431.9" y2="535.1" stroke="#707070" stroke-width="0.75" />
<circle cx="433.4" cy="527.2" r="1.9" fill="#f2f2f2" stroke="#707070" stroke-width="0.65"/>
<circle cx="426.4" cy="535.3" r="1.9" fill="#f2f2f2" stroke="#707070" stroke-width="0.65"/>
<text x="415.6" y="613.8" font-size="12.2" font-weight="bold" text-anchor="middle" fill="#111" >pH 8.0</text>
<line x1="458.8" y1="540.8" x2="458.8" y2="544" stroke="#707070" stroke-width="0.75" />
<line x1="457" y1="540.8" x2="460.6" y2="540.8" stroke="#707070" stroke-width="0.75" />
<line x1="457" y1="544" x2="460.6" y2="544" stroke="#707070" stroke-width="0.75" />
<circle cx="462.4" cy="540.8" r="1.9" fill="#f2f2f2" stroke="#707070" stroke-width="0.65"/>
<circle cx="455" cy="544.4" r="1.9" fill="#f2f2f2" stroke="#707070" stroke-width="0.65"/>
<line x1="473.3" y1="503.6" x2="473.3" y2="511.5" stroke="#707070" stroke-width="0.75" />
<line x1="471.5" y1="503.6" x2="475.1" y2="503.6" stroke="#707070" stroke-width="0.75" />
<line x1="471.5" y1="511.5" x2="475.1" y2="511.5" stroke="#707070" stroke-width="0.75" />
<circle cx="477.3" cy="503.6" r="1.9" fill="#f2f2f2" stroke="#707070" stroke-width="0.65"/>
<circle cx="469.4" cy="512" r="1.9" fill="#f2f2f2" stroke="#707070" stroke-width="0.65"/>
<line x1="487.8" y1="530.9" x2="487.8" y2="533.4" stroke="#707070" stroke-width="0.75" />
<line x1="486" y1="530.9" x2="489.6" y2="530.9" stroke="#707070" stroke-width="0.75" />
<line x1="486" y1="533.4" x2="489.6" y2="533.4" stroke="#707070" stroke-width="0.75" />
<circle cx="483.7" cy="530.9" r="1.9" fill="#f2f2f2" stroke="#707070" stroke-width="0.65"/>
<circle cx="491.7" cy="533.6" r="1.9" fill="#f2f2f2" stroke="#707070" stroke-width="0.65"/>
<text x="473.3" y="613.8" font-size="12.2" font-weight="bold" text-anchor="middle" fill="#111" >pH 9.0</text>
<line x1="516.5" y1="530.9" x2="516.5" y2="542.5" stroke="#707070" stroke-width="0.75" />
<line x1="514.7" y1="530.9" x2="518.3" y2="530.9" stroke="#707070" stroke-width="0.75" />
<line x1="514.7" y1="542.5" x2="518.3" y2="542.5" stroke="#707070" stroke-width="0.75" />
<circle cx="512.3" cy="530.9" r="1.9" fill="#f2f2f2" stroke="#707070" stroke-width="0.65"/>
<circle cx="520.2" cy="542.8" r="1.9" fill="#f2f2f2" stroke="#707070" stroke-width="0.65"/>
<line x1="531" y1="490.4" x2="531" y2="509.8" stroke="#707070" stroke-width="0.75" />
<line x1="529.2" y1="490.4" x2="532.8" y2="490.4" stroke="#707070" stroke-width="0.75" />
<line x1="529.2" y1="509.8" x2="532.8" y2="509.8" stroke="#707070" stroke-width="0.75" />
<circle cx="534.4" cy="490.4" r="1.9" fill="#f2f2f2" stroke="#707070" stroke-width="0.65"/>
<circle cx="527.2" cy="510" r="1.9" fill="#f2f2f2" stroke="#707070" stroke-width="0.65"/>
<line x1="545.5" y1="522.2" x2="545.5" y2="530.9" stroke="#707070" stroke-width="0.75" />
<line x1="543.7" y1="522.2" x2="547.3" y2="522.2" stroke="#707070" stroke-width="0.75" />
<line x1="543.7" y1="530.9" x2="547.3" y2="530.9" stroke="#707070" stroke-width="0.75" />
<circle cx="548.8" cy="522" r="1.9" fill="#f2f2f2" stroke="#707070" stroke-width="0.65"/>
<circle cx="541.8" cy="531.1" r="1.9" fill="#f2f2f2" stroke="#707070" stroke-width="0.65"/>
<text x="531" y="613.8" font-size="12.2" font-weight="bold" text-anchor="middle" fill="#111" >Tap</text>
<line x1="574.2" y1="539.6" x2="574.2" y2="543.3" stroke="#707070" stroke-width="0.75" />
<line x1="572.4" y1="539.6" x2="576" y2="539.6" stroke="#707070" stroke-width="0.75" />
<line x1="572.4" y1="543.3" x2="576" y2="543.3" stroke="#707070" stroke-width="0.75" />
<circle cx="578.3" cy="539.6" r="1.9" fill="#f2f2f2" stroke="#707070" stroke-width="0.65"/>
<circle cx="570.1" cy="543.6" r="1.9" fill="#f2f2f2" stroke="#707070" stroke-width="0.65"/>
<line x1="588.7" y1="498.6" x2="588.7" y2="506.1" stroke="#707070" stroke-width="0.75" />
<line x1="586.9" y1="498.6" x2="590.5" y2="498.6" stroke="#707070" stroke-width="0.75" />
<line x1="586.9" y1="506.1" x2="590.5" y2="506.1" stroke="#707070" stroke-width="0.75" />
<circle cx="585" cy="498.6" r="1.9" fill="#f2f2f2" stroke="#707070" stroke-width="0.65"/>
<circle cx="593.2" cy="506.8" r="1.9" fill="#f2f2f2" stroke="#707070" stroke-width="0.65"/>
<line x1="603.2" y1="527.9" x2="603.2" y2="529.6" stroke="#707070" stroke-width="0.75" />
<line x1="601.4" y1="527.9" x2="605" y2="527.9" stroke="#707070" stroke-width="0.75" />
<line x1="601.4" y1="529.6" x2="605" y2="529.6" stroke="#707070" stroke-width="0.75" />
<circle cx="598.9" cy="527.9" r="1.9" fill="#f2f2f2" stroke="#707070" stroke-width="0.65"/>
<circle cx="607.3" cy="530.1" r="1.9" fill="#f2f2f2" stroke="#707070" stroke-width="0.65"/>
<text x="588.7" y="613.8" font-size="12.2" font-weight="bold" text-anchor="middle" fill="#111" >River</text>
<line x1="631.9" y1="546.5" x2="631.9" y2="550.7" stroke="#707070" stroke-width="0.75" />
<line x1="630.1" y1="546.5" x2="633.7" y2="546.5" stroke="#707070" stroke-width="0.75" />
<line x1="630.1" y1="550.7" x2="633.7" y2="550.7" stroke="#707070" stroke-width="0.75" />
<circle cx="627.9" cy="546.5" r="1.9" fill="#f2f2f2" stroke="#707070" stroke-width="0.65"/>
<circle cx="636.1" cy="550.7" r="1.9" fill="#f2f2f2" stroke="#707070" stroke-width="0.65"/>
<line x1="646.4" y1="503.6" x2="646.4" y2="506.6" stroke="#707070" stroke-width="0.75" />
<line x1="644.6" y1="503.6" x2="648.2" y2="503.6" stroke="#707070" stroke-width="0.75" />
<line x1="644.6" y1="506.6" x2="648.2" y2="506.6" stroke="#707070" stroke-width="0.75" />
<circle cx="650.3" cy="503.6" r="1.9" fill="#f2f2f2" stroke="#707070" stroke-width="0.65"/>
<circle cx="642.8" cy="507.2" r="1.9" fill="#f2f2f2" stroke="#707070" stroke-width="0.65"/>
<line x1="660.9" y1="533.4" x2="660.9" y2="535.1" stroke="#707070" stroke-width="0.75" />
<line x1="659.1" y1="533.4" x2="662.7" y2="533.4" stroke="#707070" stroke-width="0.75" />
<line x1="659.1" y1="535.1" x2="662.7" y2="535.1" stroke="#707070" stroke-width="0.75" />
<circle cx="657" cy="533.4" r="1.9" fill="#f2f2f2" stroke="#707070" stroke-width="0.65"/>
<circle cx="665.2" cy="535.3" r="1.9" fill="#f2f2f2" stroke="#707070" stroke-width="0.65"/>
<text x="646.4" y="613.8" font-size="12.2" font-weight="bold" text-anchor="middle" fill="#111" >WWTP</text>
<rect x="40.8" y="467.7" width="634.8" height="132.9" fill="none" stroke="#262626" stroke-width="1.35"/>
<line x1="38.6" y1="600.6" x2="40.8" y2="600.6" stroke="#1a1a1a" stroke-width="1" />
<line x1="38.6" y1="567.38" x2="40.8" y2="567.38" stroke="#1a1a1a" stroke-width="1" />
<line x1="38.6" y1="534.15" x2="40.8" y2="534.15" stroke="#1a1a1a" stroke-width="1" />
<line x1="38.6" y1="500.93" x2="40.8" y2="500.93" stroke="#1a1a1a" stroke-width="1" />
<line x1="38.6" y1="467.7" x2="40.8" y2="467.7" stroke="#1a1a1a" stroke-width="1" />
<line x1="39.5" y1="583.99" x2="40.8" y2="583.99" stroke="#1a1a1a" stroke-width="1" />
<line x1="39.5" y1="550.76" x2="40.8" y2="550.76" stroke="#1a1a1a" stroke-width="1" />
<line x1="39.5" y1="517.54" x2="40.8" y2="517.54" stroke="#1a1a1a" stroke-width="1" />
<line x1="39.5" y1="484.31" x2="40.8" y2="484.31" stroke="#1a1a1a" stroke-width="1" />
<text x="34.4" y="602.9" font-size="9" font-weight="bold" text-anchor="end" fill="#111" >0.0</text>
<text x="34.4" y="569.67" font-size="9" font-weight="bold" text-anchor="end" fill="#111" >0.2</text>
<text x="34.4" y="536.45" font-size="9" font-weight="bold" text-anchor="end" fill="#111" >0.4</text>
<text x="34.4" y="503.23" font-size="9" font-weight="bold" text-anchor="end" fill="#111" >0.6</text>
<text x="34.4" y="470" font-size="9" font-weight="bold" text-anchor="end" fill="#111" >0.8</text>
<text transform="translate(15.6,533.3) rotate(-90)" font-size="13" font-weight="bold" text-anchor="middle" fill="#111"><tspan font-style="italic">k'</tspan> (min<tspan font-size="8.5" dy="-4.5">-1</tspan><tspan dy="4.5">)</tspan></text>
<rect x="45.0" y="470.5" width="18.3" height="12.2" fill="#ee9372"/>
<text x="66.3" y="480.8" font-size="12" font-weight="bold" text-anchor="start" fill="#111" >UV/FC/TiO<tspan font-size="8" dy="3">2</tspan><tspan dy="-3">/C</tspan><tspan font-size="8" dy="3">2</tspan><tspan dy="-3">N-1</tspan></text>
<rect x="179.7" y="470.5" width="18.3" height="12.2" fill="#ade6c7"/>
<text x="201" y="480.8" font-size="12" font-weight="bold" text-anchor="start" fill="#111" >UV/FC/TiO<tspan font-size="8" dy="3">2</tspan><tspan dy="-3">/C</tspan><tspan font-size="8" dy="3">2</tspan><tspan dy="-3">N-2</tspan></text>
<rect x="315.7" y="470.5" width="18.3" height="12.2" fill="#a8cad5"/>
<text x="337" y="480.8" font-size="12" font-weight="bold" text-anchor="start" fill="#111" >UV/FC/TiO<tspan font-size="8" dy="3">2</tspan><tspan dy="-3">/C</tspan><tspan font-size="8" dy="3">2</tspan><tspan dy="-3">N-3</tspan></text>
</svg></body></html>
